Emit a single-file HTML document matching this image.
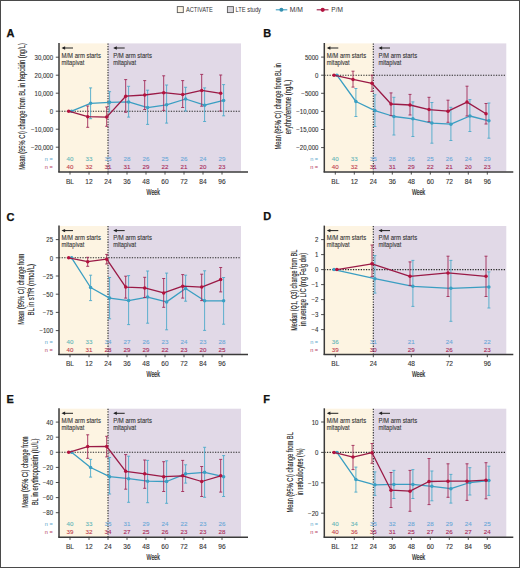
<!DOCTYPE html>
<html><head><meta charset="utf-8"><style>
html,body{margin:0;padding:0;background:#fff;}
svg{display:block;font-family:"Liberation Sans", sans-serif;}
</style></head><body>
<svg width="520" height="568" viewBox="0 0 520 568" font-family='"Liberation Sans", sans-serif'>
<rect x="0" y="0" width="520" height="568" fill="#fff"/>
<rect x="59.00" y="43.40" width="49.00" height="128.20" fill="#fdf4e2"/>
<rect x="108.00" y="43.40" width="133.00" height="128.20" fill="#e1d9e7"/>
<line x1="59.00" y1="111.20" x2="241.00" y2="111.20" stroke="#2a2a2a" stroke-width="1.1" stroke-dasharray="1.3 1.3"/>
<line x1="108.00" y1="43.40" x2="108.00" y2="171.60" stroke="#2a2a2a" stroke-width="1.1" stroke-dasharray="1.3 1.3"/>
<line x1="63.00" y1="48.00" x2="73.00" y2="48.00" stroke="#222" stroke-width="1"/>
<path d="M61.50,48.00 L65.10,46.30 L65.10,49.70 Z" fill="#222"/>
<text x="61.50" y="57.80" font-size="6.3" text-anchor="start" fill="#333" textLength="39.40" lengthAdjust="spacingAndGlyphs" stroke="#333" stroke-width="0.1">M/M arm starts</text>
<text x="61.50" y="64.70" font-size="6.3" text-anchor="start" fill="#333" textLength="22.80" lengthAdjust="spacingAndGlyphs" stroke="#333" stroke-width="0.1">mitapivat</text>
<line x1="114.70" y1="48.00" x2="124.70" y2="48.00" stroke="#222" stroke-width="1"/>
<path d="M113.20,48.00 L116.80,46.30 L116.80,49.70 Z" fill="#222"/>
<text x="113.20" y="57.80" font-size="6.3" text-anchor="start" fill="#333" textLength="38.70" lengthAdjust="spacingAndGlyphs" stroke="#333" stroke-width="0.1">P/M arm starts</text>
<text x="113.20" y="64.70" font-size="6.3" text-anchor="start" fill="#333" textLength="22.80" lengthAdjust="spacingAndGlyphs" stroke="#333" stroke-width="0.1">mitapivat</text>
<line x1="90.60" y1="87.90" x2="90.60" y2="118.70" stroke="#4eaacb" stroke-width="0.9"/>
<line x1="89.10" y1="87.90" x2="92.10" y2="87.90" stroke="#4eaacb" stroke-width="0.9"/>
<line x1="89.10" y1="118.70" x2="92.10" y2="118.70" stroke="#4eaacb" stroke-width="0.9"/>
<line x1="109.60" y1="91.70" x2="109.60" y2="112.00" stroke="#4eaacb" stroke-width="0.9"/>
<line x1="108.10" y1="91.70" x2="111.10" y2="91.70" stroke="#4eaacb" stroke-width="0.9"/>
<line x1="108.10" y1="112.00" x2="111.10" y2="112.00" stroke="#4eaacb" stroke-width="0.9"/>
<line x1="128.60" y1="86.30" x2="128.60" y2="117.10" stroke="#4eaacb" stroke-width="0.9"/>
<line x1="127.10" y1="86.30" x2="130.10" y2="86.30" stroke="#4eaacb" stroke-width="0.9"/>
<line x1="127.10" y1="117.10" x2="130.10" y2="117.10" stroke="#4eaacb" stroke-width="0.9"/>
<line x1="147.60" y1="90.20" x2="147.60" y2="124.40" stroke="#4eaacb" stroke-width="0.9"/>
<line x1="146.10" y1="90.20" x2="149.10" y2="90.20" stroke="#4eaacb" stroke-width="0.9"/>
<line x1="146.10" y1="124.40" x2="149.10" y2="124.40" stroke="#4eaacb" stroke-width="0.9"/>
<line x1="166.60" y1="85.00" x2="166.60" y2="123.10" stroke="#4eaacb" stroke-width="0.9"/>
<line x1="165.10" y1="85.00" x2="168.10" y2="85.00" stroke="#4eaacb" stroke-width="0.9"/>
<line x1="165.10" y1="123.10" x2="168.10" y2="123.10" stroke="#4eaacb" stroke-width="0.9"/>
<line x1="185.60" y1="87.30" x2="185.60" y2="111.00" stroke="#4eaacb" stroke-width="0.9"/>
<line x1="184.10" y1="87.30" x2="187.10" y2="87.30" stroke="#4eaacb" stroke-width="0.9"/>
<line x1="184.10" y1="111.00" x2="187.10" y2="111.00" stroke="#4eaacb" stroke-width="0.9"/>
<line x1="204.60" y1="87.90" x2="204.60" y2="121.50" stroke="#4eaacb" stroke-width="0.9"/>
<line x1="203.10" y1="87.90" x2="206.10" y2="87.90" stroke="#4eaacb" stroke-width="0.9"/>
<line x1="203.10" y1="121.50" x2="206.10" y2="121.50" stroke="#4eaacb" stroke-width="0.9"/>
<line x1="223.60" y1="84.60" x2="223.60" y2="115.80" stroke="#4eaacb" stroke-width="0.9"/>
<line x1="222.10" y1="84.60" x2="225.10" y2="84.60" stroke="#4eaacb" stroke-width="0.9"/>
<line x1="222.10" y1="115.80" x2="225.10" y2="115.80" stroke="#4eaacb" stroke-width="0.9"/>
<polyline points="71.60,111.20 90.60,103.30 109.60,102.30 128.60,101.90 147.60,107.60 166.60,104.80 185.60,99.00 204.60,105.20 223.60,100.40" fill="none" stroke="#3a9ec2" stroke-width="1.3" stroke-linejoin="round"/>
<circle cx="71.60" cy="111.20" r="1.75" fill="#3aa0c4"/>
<circle cx="90.60" cy="103.30" r="1.75" fill="#3aa0c4"/>
<circle cx="109.60" cy="102.30" r="1.75" fill="#3aa0c4"/>
<circle cx="128.60" cy="101.90" r="1.75" fill="#3aa0c4"/>
<circle cx="147.60" cy="107.60" r="1.75" fill="#3aa0c4"/>
<circle cx="166.60" cy="104.80" r="1.75" fill="#3aa0c4"/>
<circle cx="185.60" cy="99.00" r="1.75" fill="#3aa0c4"/>
<circle cx="204.60" cy="105.20" r="1.75" fill="#3aa0c4"/>
<circle cx="223.60" cy="100.40" r="1.75" fill="#3aa0c4"/>
<line x1="87.70" y1="106.00" x2="87.70" y2="127.30" stroke="#a02a58" stroke-width="0.9"/>
<line x1="86.20" y1="106.00" x2="89.20" y2="106.00" stroke="#a02a58" stroke-width="0.9"/>
<line x1="86.20" y1="127.30" x2="89.20" y2="127.30" stroke="#a02a58" stroke-width="0.9"/>
<line x1="106.70" y1="107.00" x2="106.70" y2="126.30" stroke="#a02a58" stroke-width="0.9"/>
<line x1="105.20" y1="107.00" x2="108.20" y2="107.00" stroke="#a02a58" stroke-width="0.9"/>
<line x1="105.20" y1="126.30" x2="108.20" y2="126.30" stroke="#a02a58" stroke-width="0.9"/>
<line x1="125.70" y1="79.60" x2="125.70" y2="112.30" stroke="#a02a58" stroke-width="0.9"/>
<line x1="124.20" y1="79.60" x2="127.20" y2="79.60" stroke="#a02a58" stroke-width="0.9"/>
<line x1="124.20" y1="112.30" x2="127.20" y2="112.30" stroke="#a02a58" stroke-width="0.9"/>
<line x1="144.70" y1="80.60" x2="144.70" y2="109.50" stroke="#a02a58" stroke-width="0.9"/>
<line x1="143.20" y1="80.60" x2="146.20" y2="80.60" stroke="#a02a58" stroke-width="0.9"/>
<line x1="143.20" y1="109.50" x2="146.20" y2="109.50" stroke="#a02a58" stroke-width="0.9"/>
<line x1="163.70" y1="75.80" x2="163.70" y2="110.40" stroke="#a02a58" stroke-width="0.9"/>
<line x1="162.20" y1="75.80" x2="165.20" y2="75.80" stroke="#a02a58" stroke-width="0.9"/>
<line x1="162.20" y1="110.40" x2="165.20" y2="110.40" stroke="#a02a58" stroke-width="0.9"/>
<line x1="182.70" y1="80.60" x2="182.70" y2="107.50" stroke="#a02a58" stroke-width="0.9"/>
<line x1="181.20" y1="80.60" x2="184.20" y2="80.60" stroke="#a02a58" stroke-width="0.9"/>
<line x1="181.20" y1="107.50" x2="184.20" y2="107.50" stroke="#a02a58" stroke-width="0.9"/>
<line x1="201.70" y1="74.40" x2="201.70" y2="106.20" stroke="#a02a58" stroke-width="0.9"/>
<line x1="200.20" y1="74.40" x2="203.20" y2="74.40" stroke="#a02a58" stroke-width="0.9"/>
<line x1="200.20" y1="106.20" x2="203.20" y2="106.20" stroke="#a02a58" stroke-width="0.9"/>
<line x1="220.70" y1="75.00" x2="220.70" y2="111.00" stroke="#a02a58" stroke-width="0.9"/>
<line x1="219.20" y1="75.00" x2="222.20" y2="75.00" stroke="#a02a58" stroke-width="0.9"/>
<line x1="219.20" y1="111.00" x2="222.20" y2="111.00" stroke="#a02a58" stroke-width="0.9"/>
<polyline points="68.70,111.20 87.70,116.70 106.70,117.10 125.70,96.20 144.70,95.00 163.70,92.70 182.70,94.60 201.70,90.40 220.70,93.30" fill="none" stroke="#9a1a46" stroke-width="1.3" stroke-linejoin="round"/>
<circle cx="68.70" cy="111.20" r="1.75" fill="#b3123e"/>
<circle cx="87.70" cy="116.70" r="1.75" fill="#b3123e"/>
<circle cx="106.70" cy="117.10" r="1.75" fill="#b3123e"/>
<circle cx="125.70" cy="96.20" r="1.75" fill="#b3123e"/>
<circle cx="144.70" cy="95.00" r="1.75" fill="#b3123e"/>
<circle cx="163.70" cy="92.70" r="1.75" fill="#b3123e"/>
<circle cx="182.70" cy="94.60" r="1.75" fill="#b3123e"/>
<circle cx="201.70" cy="90.40" r="1.75" fill="#b3123e"/>
<circle cx="220.70" cy="93.30" r="1.75" fill="#b3123e"/>
<text x="52.80" y="161.13" font-size="5.6" text-anchor="end" fill="#5aa6cc">n =</text>
<text x="52.80" y="168.93" font-size="5.6" text-anchor="end" fill="#b43c62">n =</text>
<text x="70.00" y="161.13" font-size="6.2" text-anchor="middle" fill="#62b4b8" stroke="#62b4b8" stroke-width="0.1">40</text>
<text x="70.00" y="168.93" font-size="6.2" text-anchor="middle" fill="#c03c4c" stroke="#c03c4c" stroke-width="0.1">40</text>
<text x="89.00" y="161.13" font-size="6.2" text-anchor="middle" fill="#62b4b8" stroke="#62b4b8" stroke-width="0.1">33</text>
<text x="89.00" y="168.93" font-size="6.2" text-anchor="middle" fill="#c03c4c" stroke="#c03c4c" stroke-width="0.1">32</text>
<text x="108.00" y="161.13" font-size="6.2" text-anchor="middle" fill="#6aa8d8" stroke="#6aa8d8" stroke-width="0.1">35</text>
<text x="108.00" y="168.93" font-size="6.2" text-anchor="middle" fill="#a82a58" stroke="#a82a58" stroke-width="0.1">31</text>
<text x="127.00" y="161.13" font-size="6.2" text-anchor="middle" fill="#6aa8d8" stroke="#6aa8d8" stroke-width="0.1">28</text>
<text x="127.00" y="168.93" font-size="6.2" text-anchor="middle" fill="#a82a58" stroke="#a82a58" stroke-width="0.1">31</text>
<text x="146.00" y="161.13" font-size="6.2" text-anchor="middle" fill="#6aa8d8" stroke="#6aa8d8" stroke-width="0.1">26</text>
<text x="146.00" y="168.93" font-size="6.2" text-anchor="middle" fill="#a82a58" stroke="#a82a58" stroke-width="0.1">29</text>
<text x="165.00" y="161.13" font-size="6.2" text-anchor="middle" fill="#6aa8d8" stroke="#6aa8d8" stroke-width="0.1">25</text>
<text x="165.00" y="168.93" font-size="6.2" text-anchor="middle" fill="#a82a58" stroke="#a82a58" stroke-width="0.1">22</text>
<text x="184.00" y="161.13" font-size="6.2" text-anchor="middle" fill="#6aa8d8" stroke="#6aa8d8" stroke-width="0.1">26</text>
<text x="184.00" y="168.93" font-size="6.2" text-anchor="middle" fill="#a82a58" stroke="#a82a58" stroke-width="0.1">21</text>
<text x="203.00" y="161.13" font-size="6.2" text-anchor="middle" fill="#6aa8d8" stroke="#6aa8d8" stroke-width="0.1">24</text>
<text x="203.00" y="168.93" font-size="6.2" text-anchor="middle" fill="#a82a58" stroke="#a82a58" stroke-width="0.1">20</text>
<text x="222.00" y="161.13" font-size="6.2" text-anchor="middle" fill="#6aa8d8" stroke="#6aa8d8" stroke-width="0.1">29</text>
<text x="222.00" y="168.93" font-size="6.2" text-anchor="middle" fill="#a82a58" stroke="#a82a58" stroke-width="0.1">23</text>
<line x1="59.00" y1="43.00" x2="59.00" y2="172.30" stroke="#3a3a3a" stroke-width="1.5"/>
<line x1="58.30" y1="171.95" x2="248.00" y2="171.95" stroke="#3a3a3a" stroke-width="1.5"/>
<line x1="55.80" y1="57.20" x2="59.00" y2="57.20" stroke="#3a3a3a" stroke-width="0.9"/>
<text transform="translate(53.10,59.98) scale(0.92,1)" font-size="6.6" text-anchor="end" fill="#333333" stroke="#333" stroke-width="0.1">30,000</text>
<line x1="55.80" y1="75.20" x2="59.00" y2="75.20" stroke="#3a3a3a" stroke-width="0.9"/>
<text transform="translate(53.10,77.98) scale(0.92,1)" font-size="6.6" text-anchor="end" fill="#333333" stroke="#333" stroke-width="0.1">20,000</text>
<line x1="55.80" y1="93.20" x2="59.00" y2="93.20" stroke="#3a3a3a" stroke-width="0.9"/>
<text transform="translate(53.10,95.98) scale(0.92,1)" font-size="6.6" text-anchor="end" fill="#333333" stroke="#333" stroke-width="0.1">10,000</text>
<line x1="55.80" y1="111.20" x2="59.00" y2="111.20" stroke="#3a3a3a" stroke-width="0.9"/>
<text transform="translate(53.10,113.98) scale(0.92,1)" font-size="6.6" text-anchor="end" fill="#333333" stroke="#333" stroke-width="0.1">0</text>
<line x1="55.80" y1="129.20" x2="59.00" y2="129.20" stroke="#3a3a3a" stroke-width="0.9"/>
<text transform="translate(53.10,131.98) scale(0.92,1)" font-size="6.6" text-anchor="end" fill="#333333" stroke="#333" stroke-width="0.1">−10,000</text>
<line x1="55.80" y1="147.20" x2="59.00" y2="147.20" stroke="#3a3a3a" stroke-width="0.9"/>
<text transform="translate(53.10,149.98) scale(0.92,1)" font-size="6.6" text-anchor="end" fill="#333333" stroke="#333" stroke-width="0.1">−20,000</text>
<line x1="70.00" y1="171.60" x2="70.00" y2="174.60" stroke="#3a3a3a" stroke-width="0.9"/>
<text transform="translate(70.00,183.58) scale(1.0,1)" font-size="6.6" text-anchor="middle" fill="#333333" stroke="#333" stroke-width="0.1">BL</text>
<line x1="89.00" y1="171.60" x2="89.00" y2="174.60" stroke="#3a3a3a" stroke-width="0.9"/>
<text transform="translate(89.00,183.58) scale(1.0,1)" font-size="6.6" text-anchor="middle" fill="#333333" stroke="#333" stroke-width="0.1">12</text>
<line x1="108.00" y1="171.60" x2="108.00" y2="174.60" stroke="#3a3a3a" stroke-width="0.9"/>
<text transform="translate(108.00,183.58) scale(1.0,1)" font-size="6.6" text-anchor="middle" fill="#333333" stroke="#333" stroke-width="0.1">24</text>
<line x1="127.00" y1="171.60" x2="127.00" y2="174.60" stroke="#3a3a3a" stroke-width="0.9"/>
<text transform="translate(127.00,183.58) scale(1.0,1)" font-size="6.6" text-anchor="middle" fill="#333333" stroke="#333" stroke-width="0.1">36</text>
<line x1="146.00" y1="171.60" x2="146.00" y2="174.60" stroke="#3a3a3a" stroke-width="0.9"/>
<text transform="translate(146.00,183.58) scale(1.0,1)" font-size="6.6" text-anchor="middle" fill="#333333" stroke="#333" stroke-width="0.1">48</text>
<line x1="165.00" y1="171.60" x2="165.00" y2="174.60" stroke="#3a3a3a" stroke-width="0.9"/>
<text transform="translate(165.00,183.58) scale(1.0,1)" font-size="6.6" text-anchor="middle" fill="#333333" stroke="#333" stroke-width="0.1">60</text>
<line x1="184.00" y1="171.60" x2="184.00" y2="174.60" stroke="#3a3a3a" stroke-width="0.9"/>
<text transform="translate(184.00,183.58) scale(1.0,1)" font-size="6.6" text-anchor="middle" fill="#333333" stroke="#333" stroke-width="0.1">72</text>
<line x1="203.00" y1="171.60" x2="203.00" y2="174.60" stroke="#3a3a3a" stroke-width="0.9"/>
<text transform="translate(203.00,183.58) scale(1.0,1)" font-size="6.6" text-anchor="middle" fill="#333333" stroke="#333" stroke-width="0.1">84</text>
<line x1="222.00" y1="171.60" x2="222.00" y2="174.60" stroke="#3a3a3a" stroke-width="0.9"/>
<text transform="translate(222.00,183.58) scale(1.0,1)" font-size="6.6" text-anchor="middle" fill="#333333" stroke="#333" stroke-width="0.1">96</text>
<text x="153.25" y="194.50" font-size="8.2" text-anchor="middle" fill="#222" textLength="13.30" lengthAdjust="spacingAndGlyphs" stroke="#222" stroke-width="0.2">Week</text>
<text x="6.50" y="37.10" font-size="11" text-anchor="start" fill="#111" font-weight="bold" stroke="#111" stroke-width="0.25">A</text>
<text transform="translate(25.40,106.50) rotate(-90)" x="0" y="0" font-size="8.8" text-anchor="middle" fill="#222" stroke="#222" stroke-width="0.12" textLength="126.60" lengthAdjust="spacingAndGlyphs">Mean (95% CI) change from BL in hepcidin (ng/L)</text>
<rect x="324.30" y="43.40" width="49.00" height="128.20" fill="#fdf4e2"/>
<rect x="373.30" y="43.40" width="133.00" height="128.20" fill="#e1d9e7"/>
<line x1="324.30" y1="75.20" x2="506.30" y2="75.20" stroke="#2a2a2a" stroke-width="1.1" stroke-dasharray="1.3 1.3"/>
<line x1="373.30" y1="43.40" x2="373.30" y2="171.60" stroke="#2a2a2a" stroke-width="1.1" stroke-dasharray="1.3 1.3"/>
<line x1="328.30" y1="48.00" x2="338.30" y2="48.00" stroke="#222" stroke-width="1"/>
<path d="M326.80,48.00 L330.40,46.30 L330.40,49.70 Z" fill="#222"/>
<text x="326.80" y="57.80" font-size="6.3" text-anchor="start" fill="#333" textLength="39.40" lengthAdjust="spacingAndGlyphs" stroke="#333" stroke-width="0.1">M/M arm starts</text>
<text x="326.80" y="64.70" font-size="6.3" text-anchor="start" fill="#333" textLength="22.80" lengthAdjust="spacingAndGlyphs" stroke="#333" stroke-width="0.1">mitapivat</text>
<line x1="380.00" y1="48.00" x2="390.00" y2="48.00" stroke="#222" stroke-width="1"/>
<path d="M378.50,48.00 L382.10,46.30 L382.10,49.70 Z" fill="#222"/>
<text x="378.50" y="57.80" font-size="6.3" text-anchor="start" fill="#333" textLength="38.70" lengthAdjust="spacingAndGlyphs" stroke="#333" stroke-width="0.1">P/M arm starts</text>
<text x="378.50" y="64.70" font-size="6.3" text-anchor="start" fill="#333" textLength="22.80" lengthAdjust="spacingAndGlyphs" stroke="#333" stroke-width="0.1">mitapivat</text>
<line x1="355.90" y1="88.50" x2="355.90" y2="116.50" stroke="#4eaacb" stroke-width="0.9"/>
<line x1="354.40" y1="88.50" x2="357.40" y2="88.50" stroke="#4eaacb" stroke-width="0.9"/>
<line x1="354.40" y1="116.50" x2="357.40" y2="116.50" stroke="#4eaacb" stroke-width="0.9"/>
<line x1="374.90" y1="94.80" x2="374.90" y2="126.50" stroke="#4eaacb" stroke-width="0.9"/>
<line x1="373.40" y1="94.80" x2="376.40" y2="94.80" stroke="#4eaacb" stroke-width="0.9"/>
<line x1="373.40" y1="126.50" x2="376.40" y2="126.50" stroke="#4eaacb" stroke-width="0.9"/>
<line x1="393.90" y1="97.30" x2="393.90" y2="135.00" stroke="#4eaacb" stroke-width="0.9"/>
<line x1="392.40" y1="97.30" x2="395.40" y2="97.30" stroke="#4eaacb" stroke-width="0.9"/>
<line x1="392.40" y1="135.00" x2="395.40" y2="135.00" stroke="#4eaacb" stroke-width="0.9"/>
<line x1="412.90" y1="101.90" x2="412.90" y2="136.50" stroke="#4eaacb" stroke-width="0.9"/>
<line x1="411.40" y1="101.90" x2="414.40" y2="101.90" stroke="#4eaacb" stroke-width="0.9"/>
<line x1="411.40" y1="136.50" x2="414.40" y2="136.50" stroke="#4eaacb" stroke-width="0.9"/>
<line x1="431.90" y1="102.50" x2="431.90" y2="143.20" stroke="#4eaacb" stroke-width="0.9"/>
<line x1="430.40" y1="102.50" x2="433.40" y2="102.50" stroke="#4eaacb" stroke-width="0.9"/>
<line x1="430.40" y1="143.20" x2="433.40" y2="143.20" stroke="#4eaacb" stroke-width="0.9"/>
<line x1="450.90" y1="107.30" x2="450.90" y2="140.50" stroke="#4eaacb" stroke-width="0.9"/>
<line x1="449.40" y1="107.30" x2="452.40" y2="107.30" stroke="#4eaacb" stroke-width="0.9"/>
<line x1="449.40" y1="140.50" x2="452.40" y2="140.50" stroke="#4eaacb" stroke-width="0.9"/>
<line x1="469.90" y1="99.60" x2="469.90" y2="131.50" stroke="#4eaacb" stroke-width="0.9"/>
<line x1="468.40" y1="99.60" x2="471.40" y2="99.60" stroke="#4eaacb" stroke-width="0.9"/>
<line x1="468.40" y1="131.50" x2="471.40" y2="131.50" stroke="#4eaacb" stroke-width="0.9"/>
<line x1="488.90" y1="103.00" x2="488.90" y2="138.20" stroke="#4eaacb" stroke-width="0.9"/>
<line x1="487.40" y1="103.00" x2="490.40" y2="103.00" stroke="#4eaacb" stroke-width="0.9"/>
<line x1="487.40" y1="138.20" x2="490.40" y2="138.20" stroke="#4eaacb" stroke-width="0.9"/>
<polyline points="336.90,75.20 355.90,101.50 374.90,110.60 393.90,116.50 412.90,118.80 431.90,123.10 450.90,124.20 469.90,116.00 488.90,120.80" fill="none" stroke="#3a9ec2" stroke-width="1.3" stroke-linejoin="round"/>
<circle cx="336.90" cy="75.20" r="1.75" fill="#3aa0c4"/>
<circle cx="355.90" cy="101.50" r="1.75" fill="#3aa0c4"/>
<circle cx="374.90" cy="110.60" r="1.75" fill="#3aa0c4"/>
<circle cx="393.90" cy="116.50" r="1.75" fill="#3aa0c4"/>
<circle cx="412.90" cy="118.80" r="1.75" fill="#3aa0c4"/>
<circle cx="431.90" cy="123.10" r="1.75" fill="#3aa0c4"/>
<circle cx="450.90" cy="124.20" r="1.75" fill="#3aa0c4"/>
<circle cx="469.90" cy="116.00" r="1.75" fill="#3aa0c4"/>
<circle cx="488.90" cy="120.80" r="1.75" fill="#3aa0c4"/>
<line x1="353.00" y1="71.20" x2="353.00" y2="87.10" stroke="#a02a58" stroke-width="0.9"/>
<line x1="351.50" y1="71.20" x2="354.50" y2="71.20" stroke="#a02a58" stroke-width="0.9"/>
<line x1="351.50" y1="87.10" x2="354.50" y2="87.10" stroke="#a02a58" stroke-width="0.9"/>
<line x1="372.00" y1="75.20" x2="372.00" y2="91.50" stroke="#a02a58" stroke-width="0.9"/>
<line x1="370.50" y1="75.20" x2="373.50" y2="75.20" stroke="#a02a58" stroke-width="0.9"/>
<line x1="370.50" y1="91.50" x2="373.50" y2="91.50" stroke="#a02a58" stroke-width="0.9"/>
<line x1="391.00" y1="92.90" x2="391.00" y2="115.60" stroke="#a02a58" stroke-width="0.9"/>
<line x1="389.50" y1="92.90" x2="392.50" y2="92.90" stroke="#a02a58" stroke-width="0.9"/>
<line x1="389.50" y1="115.60" x2="392.50" y2="115.60" stroke="#a02a58" stroke-width="0.9"/>
<line x1="410.00" y1="94.40" x2="410.00" y2="115.00" stroke="#a02a58" stroke-width="0.9"/>
<line x1="408.50" y1="94.40" x2="411.50" y2="94.40" stroke="#a02a58" stroke-width="0.9"/>
<line x1="408.50" y1="115.00" x2="411.50" y2="115.00" stroke="#a02a58" stroke-width="0.9"/>
<line x1="429.00" y1="97.30" x2="429.00" y2="121.70" stroke="#a02a58" stroke-width="0.9"/>
<line x1="427.50" y1="97.30" x2="430.50" y2="97.30" stroke="#a02a58" stroke-width="0.9"/>
<line x1="427.50" y1="121.70" x2="430.50" y2="121.70" stroke="#a02a58" stroke-width="0.9"/>
<line x1="448.00" y1="100.20" x2="448.00" y2="122.30" stroke="#a02a58" stroke-width="0.9"/>
<line x1="446.50" y1="100.20" x2="449.50" y2="100.20" stroke="#a02a58" stroke-width="0.9"/>
<line x1="446.50" y1="122.30" x2="449.50" y2="122.30" stroke="#a02a58" stroke-width="0.9"/>
<line x1="467.00" y1="86.20" x2="467.00" y2="116.00" stroke="#a02a58" stroke-width="0.9"/>
<line x1="465.50" y1="86.20" x2="468.50" y2="86.20" stroke="#a02a58" stroke-width="0.9"/>
<line x1="465.50" y1="116.00" x2="468.50" y2="116.00" stroke="#a02a58" stroke-width="0.9"/>
<line x1="486.00" y1="103.50" x2="486.00" y2="124.00" stroke="#a02a58" stroke-width="0.9"/>
<line x1="484.50" y1="103.50" x2="487.50" y2="103.50" stroke="#a02a58" stroke-width="0.9"/>
<line x1="484.50" y1="124.00" x2="487.50" y2="124.00" stroke="#a02a58" stroke-width="0.9"/>
<polyline points="334.00,75.20 353.00,79.40 372.00,83.30 391.00,104.00 410.00,105.00 429.00,109.60 448.00,111.20 467.00,102.10 486.00,113.70" fill="none" stroke="#9a1a46" stroke-width="1.3" stroke-linejoin="round"/>
<circle cx="334.00" cy="75.20" r="1.75" fill="#b3123e"/>
<circle cx="353.00" cy="79.40" r="1.75" fill="#b3123e"/>
<circle cx="372.00" cy="83.30" r="1.75" fill="#b3123e"/>
<circle cx="391.00" cy="104.00" r="1.75" fill="#b3123e"/>
<circle cx="410.00" cy="105.00" r="1.75" fill="#b3123e"/>
<circle cx="429.00" cy="109.60" r="1.75" fill="#b3123e"/>
<circle cx="448.00" cy="111.20" r="1.75" fill="#b3123e"/>
<circle cx="467.00" cy="102.10" r="1.75" fill="#b3123e"/>
<circle cx="486.00" cy="113.70" r="1.75" fill="#b3123e"/>
<text x="318.10" y="161.13" font-size="5.6" text-anchor="end" fill="#5aa6cc">n =</text>
<text x="318.10" y="168.93" font-size="5.6" text-anchor="end" fill="#b43c62">n =</text>
<text x="335.30" y="161.13" font-size="6.2" text-anchor="middle" fill="#62b4b8" stroke="#62b4b8" stroke-width="0.1">40</text>
<text x="335.30" y="168.93" font-size="6.2" text-anchor="middle" fill="#c03c4c" stroke="#c03c4c" stroke-width="0.1">40</text>
<text x="354.30" y="161.13" font-size="6.2" text-anchor="middle" fill="#62b4b8" stroke="#62b4b8" stroke-width="0.1">33</text>
<text x="354.30" y="168.93" font-size="6.2" text-anchor="middle" fill="#c03c4c" stroke="#c03c4c" stroke-width="0.1">32</text>
<text x="373.30" y="161.13" font-size="6.2" text-anchor="middle" fill="#6aa8d8" stroke="#6aa8d8" stroke-width="0.1">35</text>
<text x="373.30" y="168.93" font-size="6.2" text-anchor="middle" fill="#a82a58" stroke="#a82a58" stroke-width="0.1">31</text>
<text x="392.30" y="161.13" font-size="6.2" text-anchor="middle" fill="#6aa8d8" stroke="#6aa8d8" stroke-width="0.1">28</text>
<text x="392.30" y="168.93" font-size="6.2" text-anchor="middle" fill="#a82a58" stroke="#a82a58" stroke-width="0.1">31</text>
<text x="411.30" y="161.13" font-size="6.2" text-anchor="middle" fill="#6aa8d8" stroke="#6aa8d8" stroke-width="0.1">26</text>
<text x="411.30" y="168.93" font-size="6.2" text-anchor="middle" fill="#a82a58" stroke="#a82a58" stroke-width="0.1">29</text>
<text x="430.30" y="161.13" font-size="6.2" text-anchor="middle" fill="#6aa8d8" stroke="#6aa8d8" stroke-width="0.1">25</text>
<text x="430.30" y="168.93" font-size="6.2" text-anchor="middle" fill="#a82a58" stroke="#a82a58" stroke-width="0.1">22</text>
<text x="449.30" y="161.13" font-size="6.2" text-anchor="middle" fill="#6aa8d8" stroke="#6aa8d8" stroke-width="0.1">26</text>
<text x="449.30" y="168.93" font-size="6.2" text-anchor="middle" fill="#a82a58" stroke="#a82a58" stroke-width="0.1">21</text>
<text x="468.30" y="161.13" font-size="6.2" text-anchor="middle" fill="#6aa8d8" stroke="#6aa8d8" stroke-width="0.1">24</text>
<text x="468.30" y="168.93" font-size="6.2" text-anchor="middle" fill="#a82a58" stroke="#a82a58" stroke-width="0.1">20</text>
<text x="487.30" y="161.13" font-size="6.2" text-anchor="middle" fill="#6aa8d8" stroke="#6aa8d8" stroke-width="0.1">29</text>
<text x="487.30" y="168.93" font-size="6.2" text-anchor="middle" fill="#a82a58" stroke="#a82a58" stroke-width="0.1">23</text>
<line x1="324.30" y1="43.00" x2="324.30" y2="172.30" stroke="#3a3a3a" stroke-width="1.5"/>
<line x1="323.60" y1="171.95" x2="513.30" y2="171.95" stroke="#3a3a3a" stroke-width="1.5"/>
<line x1="321.10" y1="57.10" x2="324.30" y2="57.10" stroke="#3a3a3a" stroke-width="0.9"/>
<text transform="translate(318.40,59.88) scale(0.92,1)" font-size="6.6" text-anchor="end" fill="#333333" stroke="#333" stroke-width="0.1">5000</text>
<line x1="321.10" y1="75.20" x2="324.30" y2="75.20" stroke="#3a3a3a" stroke-width="0.9"/>
<text transform="translate(318.40,77.98) scale(0.92,1)" font-size="6.6" text-anchor="end" fill="#333333" stroke="#333" stroke-width="0.1">0</text>
<line x1="321.10" y1="93.30" x2="324.30" y2="93.30" stroke="#3a3a3a" stroke-width="0.9"/>
<text transform="translate(318.40,96.08) scale(0.92,1)" font-size="6.6" text-anchor="end" fill="#333333" stroke="#333" stroke-width="0.1">−5000</text>
<line x1="321.10" y1="111.40" x2="324.30" y2="111.40" stroke="#3a3a3a" stroke-width="0.9"/>
<text transform="translate(318.40,114.18) scale(0.92,1)" font-size="6.6" text-anchor="end" fill="#333333" stroke="#333" stroke-width="0.1">−10,000</text>
<line x1="321.10" y1="129.50" x2="324.30" y2="129.50" stroke="#3a3a3a" stroke-width="0.9"/>
<text transform="translate(318.40,132.28) scale(0.92,1)" font-size="6.6" text-anchor="end" fill="#333333" stroke="#333" stroke-width="0.1">−15,000</text>
<line x1="321.10" y1="147.60" x2="324.30" y2="147.60" stroke="#3a3a3a" stroke-width="0.9"/>
<text transform="translate(318.40,150.38) scale(0.92,1)" font-size="6.6" text-anchor="end" fill="#333333" stroke="#333" stroke-width="0.1">−20,000</text>
<line x1="335.30" y1="171.60" x2="335.30" y2="174.60" stroke="#3a3a3a" stroke-width="0.9"/>
<text transform="translate(335.30,183.58) scale(1.0,1)" font-size="6.6" text-anchor="middle" fill="#333333" stroke="#333" stroke-width="0.1">BL</text>
<line x1="354.30" y1="171.60" x2="354.30" y2="174.60" stroke="#3a3a3a" stroke-width="0.9"/>
<text transform="translate(354.30,183.58) scale(1.0,1)" font-size="6.6" text-anchor="middle" fill="#333333" stroke="#333" stroke-width="0.1">12</text>
<line x1="373.30" y1="171.60" x2="373.30" y2="174.60" stroke="#3a3a3a" stroke-width="0.9"/>
<text transform="translate(373.30,183.58) scale(1.0,1)" font-size="6.6" text-anchor="middle" fill="#333333" stroke="#333" stroke-width="0.1">24</text>
<line x1="392.30" y1="171.60" x2="392.30" y2="174.60" stroke="#3a3a3a" stroke-width="0.9"/>
<text transform="translate(392.30,183.58) scale(1.0,1)" font-size="6.6" text-anchor="middle" fill="#333333" stroke="#333" stroke-width="0.1">36</text>
<line x1="411.30" y1="171.60" x2="411.30" y2="174.60" stroke="#3a3a3a" stroke-width="0.9"/>
<text transform="translate(411.30,183.58) scale(1.0,1)" font-size="6.6" text-anchor="middle" fill="#333333" stroke="#333" stroke-width="0.1">48</text>
<line x1="430.30" y1="171.60" x2="430.30" y2="174.60" stroke="#3a3a3a" stroke-width="0.9"/>
<text transform="translate(430.30,183.58) scale(1.0,1)" font-size="6.6" text-anchor="middle" fill="#333333" stroke="#333" stroke-width="0.1">60</text>
<line x1="449.30" y1="171.60" x2="449.30" y2="174.60" stroke="#3a3a3a" stroke-width="0.9"/>
<text transform="translate(449.30,183.58) scale(1.0,1)" font-size="6.6" text-anchor="middle" fill="#333333" stroke="#333" stroke-width="0.1">72</text>
<line x1="468.30" y1="171.60" x2="468.30" y2="174.60" stroke="#3a3a3a" stroke-width="0.9"/>
<text transform="translate(468.30,183.58) scale(1.0,1)" font-size="6.6" text-anchor="middle" fill="#333333" stroke="#333" stroke-width="0.1">84</text>
<line x1="487.30" y1="171.60" x2="487.30" y2="174.60" stroke="#3a3a3a" stroke-width="0.9"/>
<text transform="translate(487.30,183.58) scale(1.0,1)" font-size="6.6" text-anchor="middle" fill="#333333" stroke="#333" stroke-width="0.1">96</text>
<text x="418.55" y="194.50" font-size="8.2" text-anchor="middle" fill="#222" textLength="13.30" lengthAdjust="spacingAndGlyphs" stroke="#222" stroke-width="0.2">Week</text>
<text x="263.30" y="37.30" font-size="11" text-anchor="start" fill="#111" font-weight="bold" stroke="#111" stroke-width="0.25">B</text>
<text transform="translate(281.00,106.30) rotate(-90)" x="0" y="0" font-size="8.8" text-anchor="middle" fill="#222" stroke="#222" stroke-width="0.12" textLength="86.30" lengthAdjust="spacingAndGlyphs">Mean (95% CI) change from BL in</text>
<text transform="translate(290.50,106.90) rotate(-90)" x="0" y="0" font-size="8.8" text-anchor="middle" fill="#222" stroke="#222" stroke-width="0.12" textLength="54.50" lengthAdjust="spacingAndGlyphs">erythroferrone (ng/L)</text>
<rect x="59.00" y="226.00" width="49.00" height="128.20" fill="#fdf4e2"/>
<rect x="108.00" y="226.00" width="133.00" height="128.20" fill="#e1d9e7"/>
<line x1="59.00" y1="257.80" x2="241.00" y2="257.80" stroke="#2a2a2a" stroke-width="1.1" stroke-dasharray="1.3 1.3"/>
<line x1="108.00" y1="226.00" x2="108.00" y2="354.20" stroke="#2a2a2a" stroke-width="1.1" stroke-dasharray="1.3 1.3"/>
<line x1="63.00" y1="230.60" x2="73.00" y2="230.60" stroke="#222" stroke-width="1"/>
<path d="M61.50,230.60 L65.10,228.90 L65.10,232.30 Z" fill="#222"/>
<text x="61.50" y="240.40" font-size="6.3" text-anchor="start" fill="#333" textLength="39.40" lengthAdjust="spacingAndGlyphs" stroke="#333" stroke-width="0.1">M/M arm starts</text>
<text x="61.50" y="247.30" font-size="6.3" text-anchor="start" fill="#333" textLength="22.80" lengthAdjust="spacingAndGlyphs" stroke="#333" stroke-width="0.1">mitapivat</text>
<line x1="114.70" y1="230.60" x2="124.70" y2="230.60" stroke="#222" stroke-width="1"/>
<path d="M113.20,230.60 L116.80,228.90 L116.80,232.30 Z" fill="#222"/>
<text x="113.20" y="240.40" font-size="6.3" text-anchor="start" fill="#333" textLength="38.70" lengthAdjust="spacingAndGlyphs" stroke="#333" stroke-width="0.1">P/M arm starts</text>
<text x="113.20" y="247.30" font-size="6.3" text-anchor="start" fill="#333" textLength="22.80" lengthAdjust="spacingAndGlyphs" stroke="#333" stroke-width="0.1">mitapivat</text>
<line x1="90.60" y1="275.20" x2="90.60" y2="300.60" stroke="#4eaacb" stroke-width="0.9"/>
<line x1="89.10" y1="275.20" x2="92.10" y2="275.20" stroke="#4eaacb" stroke-width="0.9"/>
<line x1="89.10" y1="300.60" x2="92.10" y2="300.60" stroke="#4eaacb" stroke-width="0.9"/>
<line x1="109.60" y1="277.50" x2="109.60" y2="318.80" stroke="#4eaacb" stroke-width="0.9"/>
<line x1="108.10" y1="277.50" x2="111.10" y2="277.50" stroke="#4eaacb" stroke-width="0.9"/>
<line x1="108.10" y1="318.80" x2="111.10" y2="318.80" stroke="#4eaacb" stroke-width="0.9"/>
<line x1="128.60" y1="275.60" x2="128.60" y2="324.60" stroke="#4eaacb" stroke-width="0.9"/>
<line x1="127.10" y1="275.60" x2="130.10" y2="275.60" stroke="#4eaacb" stroke-width="0.9"/>
<line x1="127.10" y1="324.60" x2="130.10" y2="324.60" stroke="#4eaacb" stroke-width="0.9"/>
<line x1="147.60" y1="271.00" x2="147.60" y2="323.20" stroke="#4eaacb" stroke-width="0.9"/>
<line x1="146.10" y1="271.00" x2="149.10" y2="271.00" stroke="#4eaacb" stroke-width="0.9"/>
<line x1="146.10" y1="323.20" x2="149.10" y2="323.20" stroke="#4eaacb" stroke-width="0.9"/>
<line x1="166.60" y1="273.10" x2="166.60" y2="329.80" stroke="#4eaacb" stroke-width="0.9"/>
<line x1="165.10" y1="273.10" x2="168.10" y2="273.10" stroke="#4eaacb" stroke-width="0.9"/>
<line x1="165.10" y1="329.80" x2="168.10" y2="329.80" stroke="#4eaacb" stroke-width="0.9"/>
<line x1="185.60" y1="275.20" x2="185.60" y2="301.20" stroke="#4eaacb" stroke-width="0.9"/>
<line x1="184.10" y1="275.20" x2="187.10" y2="275.20" stroke="#4eaacb" stroke-width="0.9"/>
<line x1="184.10" y1="301.20" x2="187.10" y2="301.20" stroke="#4eaacb" stroke-width="0.9"/>
<line x1="204.60" y1="270.80" x2="204.60" y2="330.40" stroke="#4eaacb" stroke-width="0.9"/>
<line x1="203.10" y1="270.80" x2="206.10" y2="270.80" stroke="#4eaacb" stroke-width="0.9"/>
<line x1="203.10" y1="330.40" x2="206.10" y2="330.40" stroke="#4eaacb" stroke-width="0.9"/>
<line x1="223.60" y1="277.50" x2="223.60" y2="324.20" stroke="#4eaacb" stroke-width="0.9"/>
<line x1="222.10" y1="277.50" x2="225.10" y2="277.50" stroke="#4eaacb" stroke-width="0.9"/>
<line x1="222.10" y1="324.20" x2="225.10" y2="324.20" stroke="#4eaacb" stroke-width="0.9"/>
<polyline points="71.60,257.80 90.60,287.50 109.60,298.10 128.60,300.60 147.60,297.10 166.60,301.90 185.60,288.50 204.60,300.80 223.60,300.80" fill="none" stroke="#3a9ec2" stroke-width="1.3" stroke-linejoin="round"/>
<circle cx="71.60" cy="257.80" r="1.75" fill="#3aa0c4"/>
<circle cx="90.60" cy="287.50" r="1.75" fill="#3aa0c4"/>
<circle cx="109.60" cy="298.10" r="1.75" fill="#3aa0c4"/>
<circle cx="128.60" cy="300.60" r="1.75" fill="#3aa0c4"/>
<circle cx="147.60" cy="297.10" r="1.75" fill="#3aa0c4"/>
<circle cx="166.60" cy="301.90" r="1.75" fill="#3aa0c4"/>
<circle cx="185.60" cy="288.50" r="1.75" fill="#3aa0c4"/>
<circle cx="204.60" cy="300.80" r="1.75" fill="#3aa0c4"/>
<circle cx="223.60" cy="300.80" r="1.75" fill="#3aa0c4"/>
<line x1="87.70" y1="257.30" x2="87.70" y2="266.30" stroke="#a02a58" stroke-width="0.9"/>
<line x1="86.20" y1="257.30" x2="89.20" y2="257.30" stroke="#a02a58" stroke-width="0.9"/>
<line x1="86.20" y1="266.30" x2="89.20" y2="266.30" stroke="#a02a58" stroke-width="0.9"/>
<line x1="106.70" y1="254.40" x2="106.70" y2="264.00" stroke="#a02a58" stroke-width="0.9"/>
<line x1="105.20" y1="254.40" x2="108.20" y2="254.40" stroke="#a02a58" stroke-width="0.9"/>
<line x1="105.20" y1="264.00" x2="108.20" y2="264.00" stroke="#a02a58" stroke-width="0.9"/>
<line x1="125.70" y1="276.20" x2="125.70" y2="298.10" stroke="#a02a58" stroke-width="0.9"/>
<line x1="124.20" y1="276.20" x2="127.20" y2="276.20" stroke="#a02a58" stroke-width="0.9"/>
<line x1="124.20" y1="298.10" x2="127.20" y2="298.10" stroke="#a02a58" stroke-width="0.9"/>
<line x1="144.70" y1="277.30" x2="144.70" y2="297.50" stroke="#a02a58" stroke-width="0.9"/>
<line x1="143.20" y1="277.30" x2="146.20" y2="277.30" stroke="#a02a58" stroke-width="0.9"/>
<line x1="143.20" y1="297.50" x2="146.20" y2="297.50" stroke="#a02a58" stroke-width="0.9"/>
<line x1="163.70" y1="278.50" x2="163.70" y2="307.30" stroke="#a02a58" stroke-width="0.9"/>
<line x1="162.20" y1="278.50" x2="165.20" y2="278.50" stroke="#a02a58" stroke-width="0.9"/>
<line x1="162.20" y1="307.30" x2="165.20" y2="307.30" stroke="#a02a58" stroke-width="0.9"/>
<line x1="182.70" y1="274.60" x2="182.70" y2="298.10" stroke="#a02a58" stroke-width="0.9"/>
<line x1="181.20" y1="274.60" x2="184.20" y2="274.60" stroke="#a02a58" stroke-width="0.9"/>
<line x1="181.20" y1="298.10" x2="184.20" y2="298.10" stroke="#a02a58" stroke-width="0.9"/>
<line x1="201.70" y1="274.20" x2="201.70" y2="300.60" stroke="#a02a58" stroke-width="0.9"/>
<line x1="200.20" y1="274.20" x2="203.20" y2="274.20" stroke="#a02a58" stroke-width="0.9"/>
<line x1="200.20" y1="300.60" x2="203.20" y2="300.60" stroke="#a02a58" stroke-width="0.9"/>
<line x1="220.70" y1="267.50" x2="220.70" y2="291.90" stroke="#a02a58" stroke-width="0.9"/>
<line x1="219.20" y1="267.50" x2="222.20" y2="267.50" stroke="#a02a58" stroke-width="0.9"/>
<line x1="219.20" y1="291.90" x2="222.20" y2="291.90" stroke="#a02a58" stroke-width="0.9"/>
<polyline points="68.70,257.80 87.70,261.70 106.70,259.20 125.70,287.10 144.70,287.90 163.70,292.90 182.70,286.20 201.70,287.10 220.70,279.60" fill="none" stroke="#9a1a46" stroke-width="1.3" stroke-linejoin="round"/>
<circle cx="68.70" cy="257.80" r="1.75" fill="#b3123e"/>
<circle cx="87.70" cy="261.70" r="1.75" fill="#b3123e"/>
<circle cx="106.70" cy="259.20" r="1.75" fill="#b3123e"/>
<circle cx="125.70" cy="287.10" r="1.75" fill="#b3123e"/>
<circle cx="144.70" cy="287.90" r="1.75" fill="#b3123e"/>
<circle cx="163.70" cy="292.90" r="1.75" fill="#b3123e"/>
<circle cx="182.70" cy="286.20" r="1.75" fill="#b3123e"/>
<circle cx="201.70" cy="287.10" r="1.75" fill="#b3123e"/>
<circle cx="220.70" cy="279.60" r="1.75" fill="#b3123e"/>
<text x="52.80" y="343.73" font-size="5.6" text-anchor="end" fill="#5aa6cc">n =</text>
<text x="52.80" y="351.53" font-size="5.6" text-anchor="end" fill="#b43c62">n =</text>
<text x="70.00" y="343.73" font-size="6.2" text-anchor="middle" fill="#62b4b8" stroke="#62b4b8" stroke-width="0.1">40</text>
<text x="70.00" y="351.53" font-size="6.2" text-anchor="middle" fill="#c03c4c" stroke="#c03c4c" stroke-width="0.1">40</text>
<text x="89.00" y="343.73" font-size="6.2" text-anchor="middle" fill="#62b4b8" stroke="#62b4b8" stroke-width="0.1">33</text>
<text x="89.00" y="351.53" font-size="6.2" text-anchor="middle" fill="#c03c4c" stroke="#c03c4c" stroke-width="0.1">31</text>
<text x="108.00" y="343.73" font-size="6.2" text-anchor="middle" fill="#6aa8d8" stroke="#6aa8d8" stroke-width="0.1">34</text>
<text x="108.00" y="351.53" font-size="6.2" text-anchor="middle" fill="#a82a58" stroke="#a82a58" stroke-width="0.1">28</text>
<text x="127.00" y="343.73" font-size="6.2" text-anchor="middle" fill="#6aa8d8" stroke="#6aa8d8" stroke-width="0.1">27</text>
<text x="127.00" y="351.53" font-size="6.2" text-anchor="middle" fill="#a82a58" stroke="#a82a58" stroke-width="0.1">29</text>
<text x="146.00" y="343.73" font-size="6.2" text-anchor="middle" fill="#6aa8d8" stroke="#6aa8d8" stroke-width="0.1">26</text>
<text x="146.00" y="351.53" font-size="6.2" text-anchor="middle" fill="#a82a58" stroke="#a82a58" stroke-width="0.1">29</text>
<text x="165.00" y="343.73" font-size="6.2" text-anchor="middle" fill="#6aa8d8" stroke="#6aa8d8" stroke-width="0.1">23</text>
<text x="165.00" y="351.53" font-size="6.2" text-anchor="middle" fill="#a82a58" stroke="#a82a58" stroke-width="0.1">22</text>
<text x="184.00" y="343.73" font-size="6.2" text-anchor="middle" fill="#6aa8d8" stroke="#6aa8d8" stroke-width="0.1">24</text>
<text x="184.00" y="351.53" font-size="6.2" text-anchor="middle" fill="#a82a58" stroke="#a82a58" stroke-width="0.1">23</text>
<text x="203.00" y="343.73" font-size="6.2" text-anchor="middle" fill="#6aa8d8" stroke="#6aa8d8" stroke-width="0.1">23</text>
<text x="203.00" y="351.53" font-size="6.2" text-anchor="middle" fill="#a82a58" stroke="#a82a58" stroke-width="0.1">20</text>
<text x="222.00" y="343.73" font-size="6.2" text-anchor="middle" fill="#6aa8d8" stroke="#6aa8d8" stroke-width="0.1">28</text>
<text x="222.00" y="351.53" font-size="6.2" text-anchor="middle" fill="#a82a58" stroke="#a82a58" stroke-width="0.1">25</text>
<line x1="59.00" y1="225.60" x2="59.00" y2="354.90" stroke="#3a3a3a" stroke-width="1.5"/>
<line x1="58.30" y1="354.55" x2="248.00" y2="354.55" stroke="#3a3a3a" stroke-width="1.5"/>
<line x1="55.80" y1="239.60" x2="59.00" y2="239.60" stroke="#3a3a3a" stroke-width="0.9"/>
<text transform="translate(53.10,242.38) scale(0.92,1)" font-size="6.6" text-anchor="end" fill="#333333" stroke="#333" stroke-width="0.1">25</text>
<line x1="55.80" y1="257.80" x2="59.00" y2="257.80" stroke="#3a3a3a" stroke-width="0.9"/>
<text transform="translate(53.10,260.58) scale(0.92,1)" font-size="6.6" text-anchor="end" fill="#333333" stroke="#333" stroke-width="0.1">0</text>
<line x1="55.80" y1="276.00" x2="59.00" y2="276.00" stroke="#3a3a3a" stroke-width="0.9"/>
<text transform="translate(53.10,278.78) scale(0.92,1)" font-size="6.6" text-anchor="end" fill="#333333" stroke="#333" stroke-width="0.1">−25</text>
<line x1="55.80" y1="294.20" x2="59.00" y2="294.20" stroke="#3a3a3a" stroke-width="0.9"/>
<text transform="translate(53.10,296.98) scale(0.92,1)" font-size="6.6" text-anchor="end" fill="#333333" stroke="#333" stroke-width="0.1">−50</text>
<line x1="55.80" y1="312.40" x2="59.00" y2="312.40" stroke="#3a3a3a" stroke-width="0.9"/>
<text transform="translate(53.10,315.18) scale(0.92,1)" font-size="6.6" text-anchor="end" fill="#333333" stroke="#333" stroke-width="0.1">−75</text>
<line x1="55.80" y1="330.60" x2="59.00" y2="330.60" stroke="#3a3a3a" stroke-width="0.9"/>
<text transform="translate(53.10,333.38) scale(0.92,1)" font-size="6.6" text-anchor="end" fill="#333333" stroke="#333" stroke-width="0.1">−100</text>
<line x1="70.00" y1="354.20" x2="70.00" y2="357.20" stroke="#3a3a3a" stroke-width="0.9"/>
<text transform="translate(70.00,366.18) scale(1.0,1)" font-size="6.6" text-anchor="middle" fill="#333333" stroke="#333" stroke-width="0.1">BL</text>
<line x1="89.00" y1="354.20" x2="89.00" y2="357.20" stroke="#3a3a3a" stroke-width="0.9"/>
<text transform="translate(89.00,366.18) scale(1.0,1)" font-size="6.6" text-anchor="middle" fill="#333333" stroke="#333" stroke-width="0.1">12</text>
<line x1="108.00" y1="354.20" x2="108.00" y2="357.20" stroke="#3a3a3a" stroke-width="0.9"/>
<text transform="translate(108.00,366.18) scale(1.0,1)" font-size="6.6" text-anchor="middle" fill="#333333" stroke="#333" stroke-width="0.1">24</text>
<line x1="127.00" y1="354.20" x2="127.00" y2="357.20" stroke="#3a3a3a" stroke-width="0.9"/>
<text transform="translate(127.00,366.18) scale(1.0,1)" font-size="6.6" text-anchor="middle" fill="#333333" stroke="#333" stroke-width="0.1">36</text>
<line x1="146.00" y1="354.20" x2="146.00" y2="357.20" stroke="#3a3a3a" stroke-width="0.9"/>
<text transform="translate(146.00,366.18) scale(1.0,1)" font-size="6.6" text-anchor="middle" fill="#333333" stroke="#333" stroke-width="0.1">48</text>
<line x1="165.00" y1="354.20" x2="165.00" y2="357.20" stroke="#3a3a3a" stroke-width="0.9"/>
<text transform="translate(165.00,366.18) scale(1.0,1)" font-size="6.6" text-anchor="middle" fill="#333333" stroke="#333" stroke-width="0.1">60</text>
<line x1="184.00" y1="354.20" x2="184.00" y2="357.20" stroke="#3a3a3a" stroke-width="0.9"/>
<text transform="translate(184.00,366.18) scale(1.0,1)" font-size="6.6" text-anchor="middle" fill="#333333" stroke="#333" stroke-width="0.1">72</text>
<line x1="203.00" y1="354.20" x2="203.00" y2="357.20" stroke="#3a3a3a" stroke-width="0.9"/>
<text transform="translate(203.00,366.18) scale(1.0,1)" font-size="6.6" text-anchor="middle" fill="#333333" stroke="#333" stroke-width="0.1">84</text>
<line x1="222.00" y1="354.20" x2="222.00" y2="357.20" stroke="#3a3a3a" stroke-width="0.9"/>
<text transform="translate(222.00,366.18) scale(1.0,1)" font-size="6.6" text-anchor="middle" fill="#333333" stroke="#333" stroke-width="0.1">96</text>
<text x="153.25" y="377.10" font-size="8.2" text-anchor="middle" fill="#222" textLength="13.30" lengthAdjust="spacingAndGlyphs" stroke="#222" stroke-width="0.2">Week</text>
<text x="6.50" y="220.60" font-size="11" text-anchor="start" fill="#111" font-weight="bold" stroke="#111" stroke-width="0.25">C</text>
<text transform="translate(23.80,289.30) rotate(-90)" x="0" y="0" font-size="8.8" text-anchor="middle" fill="#222" stroke="#222" stroke-width="0.12" textLength="71.00" lengthAdjust="spacingAndGlyphs">Mean (95% CI) change from</text>
<text transform="translate(33.90,289.70) rotate(-90)" x="0" y="0" font-size="8.8" text-anchor="middle" fill="#222" stroke="#222" stroke-width="0.12" textLength="51.50" lengthAdjust="spacingAndGlyphs">BL in sTfR (nmol/L)</text>
<rect x="324.30" y="226.00" width="49.00" height="128.20" fill="#fdf4e2"/>
<rect x="373.30" y="226.00" width="133.00" height="128.20" fill="#e1d9e7"/>
<line x1="324.30" y1="269.60" x2="506.30" y2="269.60" stroke="#2a2a2a" stroke-width="1.1" stroke-dasharray="1.3 1.3"/>
<line x1="373.30" y1="226.00" x2="373.30" y2="354.20" stroke="#2a2a2a" stroke-width="1.1" stroke-dasharray="1.3 1.3"/>
<line x1="328.30" y1="230.60" x2="338.30" y2="230.60" stroke="#222" stroke-width="1"/>
<path d="M326.80,230.60 L330.40,228.90 L330.40,232.30 Z" fill="#222"/>
<text x="326.80" y="240.40" font-size="6.3" text-anchor="start" fill="#333" textLength="39.40" lengthAdjust="spacingAndGlyphs" stroke="#333" stroke-width="0.1">M/M arm starts</text>
<text x="326.80" y="247.30" font-size="6.3" text-anchor="start" fill="#333" textLength="22.80" lengthAdjust="spacingAndGlyphs" stroke="#333" stroke-width="0.1">mitapivat</text>
<line x1="380.00" y1="230.60" x2="390.00" y2="230.60" stroke="#222" stroke-width="1"/>
<path d="M378.50,230.60 L382.10,228.90 L382.10,232.30 Z" fill="#222"/>
<text x="378.50" y="240.40" font-size="6.3" text-anchor="start" fill="#333" textLength="38.70" lengthAdjust="spacingAndGlyphs" stroke="#333" stroke-width="0.1">P/M arm starts</text>
<text x="378.50" y="247.30" font-size="6.3" text-anchor="start" fill="#333" textLength="22.80" lengthAdjust="spacingAndGlyphs" stroke="#333" stroke-width="0.1">mitapivat</text>
<line x1="374.90" y1="255.60" x2="374.90" y2="293.10" stroke="#4eaacb" stroke-width="0.9"/>
<line x1="373.40" y1="255.60" x2="376.40" y2="255.60" stroke="#4eaacb" stroke-width="0.9"/>
<line x1="373.40" y1="293.10" x2="376.40" y2="293.10" stroke="#4eaacb" stroke-width="0.9"/>
<line x1="412.90" y1="260.40" x2="412.90" y2="306.40" stroke="#4eaacb" stroke-width="0.9"/>
<line x1="411.40" y1="260.40" x2="414.40" y2="260.40" stroke="#4eaacb" stroke-width="0.9"/>
<line x1="411.40" y1="306.40" x2="414.40" y2="306.40" stroke="#4eaacb" stroke-width="0.9"/>
<line x1="450.90" y1="260.40" x2="450.90" y2="321.30" stroke="#4eaacb" stroke-width="0.9"/>
<line x1="449.40" y1="260.40" x2="452.40" y2="260.40" stroke="#4eaacb" stroke-width="0.9"/>
<line x1="449.40" y1="321.30" x2="452.40" y2="321.30" stroke="#4eaacb" stroke-width="0.9"/>
<line x1="488.90" y1="271.90" x2="488.90" y2="308.00" stroke="#4eaacb" stroke-width="0.9"/>
<line x1="487.40" y1="271.90" x2="490.40" y2="271.90" stroke="#4eaacb" stroke-width="0.9"/>
<line x1="487.40" y1="308.00" x2="490.40" y2="308.00" stroke="#4eaacb" stroke-width="0.9"/>
<polyline points="334.00,269.60 374.90,278.70 412.90,286.30 450.90,288.30 488.90,286.90" fill="none" stroke="#3a9ec2" stroke-width="1.3" stroke-linejoin="round"/>
<circle cx="334.00" cy="269.60" r="1.75" fill="#3aa0c4"/>
<circle cx="374.90" cy="278.70" r="1.75" fill="#3aa0c4"/>
<circle cx="412.90" cy="286.30" r="1.75" fill="#3aa0c4"/>
<circle cx="450.90" cy="288.30" r="1.75" fill="#3aa0c4"/>
<circle cx="488.90" cy="286.90" r="1.75" fill="#3aa0c4"/>
<line x1="372.00" y1="245.00" x2="372.00" y2="276.70" stroke="#a02a58" stroke-width="0.9"/>
<line x1="370.50" y1="245.00" x2="373.50" y2="245.00" stroke="#a02a58" stroke-width="0.9"/>
<line x1="370.50" y1="276.70" x2="373.50" y2="276.70" stroke="#a02a58" stroke-width="0.9"/>
<line x1="410.00" y1="261.90" x2="410.00" y2="285.40" stroke="#a02a58" stroke-width="0.9"/>
<line x1="408.50" y1="261.90" x2="411.50" y2="261.90" stroke="#a02a58" stroke-width="0.9"/>
<line x1="408.50" y1="285.40" x2="411.50" y2="285.40" stroke="#a02a58" stroke-width="0.9"/>
<line x1="448.00" y1="256.20" x2="448.00" y2="296.50" stroke="#a02a58" stroke-width="0.9"/>
<line x1="446.50" y1="256.20" x2="449.50" y2="256.20" stroke="#a02a58" stroke-width="0.9"/>
<line x1="446.50" y1="296.50" x2="449.50" y2="296.50" stroke="#a02a58" stroke-width="0.9"/>
<line x1="486.00" y1="256.20" x2="486.00" y2="296.50" stroke="#a02a58" stroke-width="0.9"/>
<line x1="484.50" y1="256.20" x2="487.50" y2="256.20" stroke="#a02a58" stroke-width="0.9"/>
<line x1="484.50" y1="296.50" x2="487.50" y2="296.50" stroke="#a02a58" stroke-width="0.9"/>
<polyline points="336.90,269.60 372.00,263.80 410.00,276.30 448.00,272.90 486.00,276.30" fill="none" stroke="#9a1a46" stroke-width="1.3" stroke-linejoin="round"/>
<circle cx="336.90" cy="269.60" r="1.75" fill="#b3123e"/>
<circle cx="372.00" cy="263.80" r="1.75" fill="#b3123e"/>
<circle cx="410.00" cy="276.30" r="1.75" fill="#b3123e"/>
<circle cx="448.00" cy="272.90" r="1.75" fill="#b3123e"/>
<circle cx="486.00" cy="276.30" r="1.75" fill="#b3123e"/>
<text x="318.10" y="343.73" font-size="5.6" text-anchor="end" fill="#5aa6cc">n =</text>
<text x="318.10" y="351.53" font-size="5.6" text-anchor="end" fill="#b43c62">n =</text>
<text x="335.30" y="343.73" font-size="6.2" text-anchor="middle" fill="#62b4b8" stroke="#62b4b8" stroke-width="0.1">36</text>
<text x="335.30" y="351.53" font-size="6.2" text-anchor="middle" fill="#c03c4c" stroke="#c03c4c" stroke-width="0.1">39</text>
<text x="373.30" y="343.73" font-size="6.2" text-anchor="middle" fill="#6aa8d8" stroke="#6aa8d8" stroke-width="0.1">31</text>
<text x="373.30" y="351.53" font-size="6.2" text-anchor="middle" fill="#a82a58" stroke="#a82a58" stroke-width="0.1">30</text>
<text x="411.30" y="343.73" font-size="6.2" text-anchor="middle" fill="#6aa8d8" stroke="#6aa8d8" stroke-width="0.1">21</text>
<text x="411.30" y="351.53" font-size="6.2" text-anchor="middle" fill="#a82a58" stroke="#a82a58" stroke-width="0.1">29</text>
<text x="449.30" y="343.73" font-size="6.2" text-anchor="middle" fill="#6aa8d8" stroke="#6aa8d8" stroke-width="0.1">24</text>
<text x="449.30" y="351.53" font-size="6.2" text-anchor="middle" fill="#a82a58" stroke="#a82a58" stroke-width="0.1">26</text>
<text x="487.30" y="343.73" font-size="6.2" text-anchor="middle" fill="#6aa8d8" stroke="#6aa8d8" stroke-width="0.1">22</text>
<text x="487.30" y="351.53" font-size="6.2" text-anchor="middle" fill="#a82a58" stroke="#a82a58" stroke-width="0.1">23</text>
<line x1="324.30" y1="225.60" x2="324.30" y2="354.90" stroke="#3a3a3a" stroke-width="1.5"/>
<line x1="323.60" y1="354.55" x2="513.30" y2="354.55" stroke="#3a3a3a" stroke-width="1.5"/>
<line x1="321.10" y1="239.60" x2="324.30" y2="239.60" stroke="#3a3a3a" stroke-width="0.9"/>
<text transform="translate(318.40,242.38) scale(0.92,1)" font-size="6.6" text-anchor="end" fill="#333333" stroke="#333" stroke-width="0.1">2</text>
<line x1="321.10" y1="254.60" x2="324.30" y2="254.60" stroke="#3a3a3a" stroke-width="0.9"/>
<text transform="translate(318.40,257.38) scale(0.92,1)" font-size="6.6" text-anchor="end" fill="#333333" stroke="#333" stroke-width="0.1">1</text>
<line x1="321.10" y1="269.60" x2="324.30" y2="269.60" stroke="#3a3a3a" stroke-width="0.9"/>
<text transform="translate(318.40,272.38) scale(0.92,1)" font-size="6.6" text-anchor="end" fill="#333333" stroke="#333" stroke-width="0.1">0</text>
<line x1="321.10" y1="284.60" x2="324.30" y2="284.60" stroke="#3a3a3a" stroke-width="0.9"/>
<text transform="translate(318.40,287.38) scale(0.92,1)" font-size="6.6" text-anchor="end" fill="#333333" stroke="#333" stroke-width="0.1">−1</text>
<line x1="321.10" y1="299.60" x2="324.30" y2="299.60" stroke="#3a3a3a" stroke-width="0.9"/>
<text transform="translate(318.40,302.38) scale(0.92,1)" font-size="6.6" text-anchor="end" fill="#333333" stroke="#333" stroke-width="0.1">−2</text>
<line x1="321.10" y1="314.60" x2="324.30" y2="314.60" stroke="#3a3a3a" stroke-width="0.9"/>
<text transform="translate(318.40,317.38) scale(0.92,1)" font-size="6.6" text-anchor="end" fill="#333333" stroke="#333" stroke-width="0.1">−3</text>
<line x1="321.10" y1="329.60" x2="324.30" y2="329.60" stroke="#3a3a3a" stroke-width="0.9"/>
<text transform="translate(318.40,332.38) scale(0.92,1)" font-size="6.6" text-anchor="end" fill="#333333" stroke="#333" stroke-width="0.1">−4</text>
<line x1="335.30" y1="354.20" x2="335.30" y2="357.20" stroke="#3a3a3a" stroke-width="0.9"/>
<text transform="translate(335.30,366.18) scale(1.0,1)" font-size="6.6" text-anchor="middle" fill="#333333" stroke="#333" stroke-width="0.1">BL</text>
<line x1="373.30" y1="354.20" x2="373.30" y2="357.20" stroke="#3a3a3a" stroke-width="0.9"/>
<text transform="translate(373.30,366.18) scale(1.0,1)" font-size="6.6" text-anchor="middle" fill="#333333" stroke="#333" stroke-width="0.1">24</text>
<line x1="411.30" y1="354.20" x2="411.30" y2="357.20" stroke="#3a3a3a" stroke-width="0.9"/>
<text transform="translate(411.30,366.18) scale(1.0,1)" font-size="6.6" text-anchor="middle" fill="#333333" stroke="#333" stroke-width="0.1">48</text>
<line x1="449.30" y1="354.20" x2="449.30" y2="357.20" stroke="#3a3a3a" stroke-width="0.9"/>
<text transform="translate(449.30,366.18) scale(1.0,1)" font-size="6.6" text-anchor="middle" fill="#333333" stroke="#333" stroke-width="0.1">72</text>
<line x1="487.30" y1="354.20" x2="487.30" y2="357.20" stroke="#3a3a3a" stroke-width="0.9"/>
<text transform="translate(487.30,366.18) scale(1.0,1)" font-size="6.6" text-anchor="middle" fill="#333333" stroke="#333" stroke-width="0.1">96</text>
<text x="418.55" y="377.10" font-size="8.2" text-anchor="middle" fill="#222" textLength="13.30" lengthAdjust="spacingAndGlyphs" stroke="#222" stroke-width="0.2">Week</text>
<text x="263.30" y="220.40" font-size="11" text-anchor="start" fill="#111" font-weight="bold" stroke="#111" stroke-width="0.25">D</text>
<text transform="translate(296.50,290.20) rotate(-90)" x="0" y="0" font-size="8.8" text-anchor="middle" fill="#222" stroke="#222" stroke-width="0.12" textLength="81.00" lengthAdjust="spacingAndGlyphs">Median (Q1, Q3) change from BL</text>
<text transform="translate(306.30,289.40) rotate(-90)" x="0" y="0" font-size="8.8" text-anchor="middle" fill="#222" stroke="#222" stroke-width="0.12" textLength="73.00" lengthAdjust="spacingAndGlyphs">in average LIC (mg Fe/g dw)</text>
<rect x="59.00" y="408.70" width="49.00" height="128.20" fill="#fdf4e2"/>
<rect x="108.00" y="408.70" width="133.00" height="128.20" fill="#e1d9e7"/>
<line x1="59.00" y1="452.30" x2="241.00" y2="452.30" stroke="#2a2a2a" stroke-width="1.1" stroke-dasharray="1.3 1.3"/>
<line x1="108.00" y1="408.70" x2="108.00" y2="536.90" stroke="#2a2a2a" stroke-width="1.1" stroke-dasharray="1.3 1.3"/>
<line x1="63.00" y1="413.30" x2="73.00" y2="413.30" stroke="#222" stroke-width="1"/>
<path d="M61.50,413.30 L65.10,411.60 L65.10,415.00 Z" fill="#222"/>
<text x="61.50" y="423.10" font-size="6.3" text-anchor="start" fill="#333" textLength="39.40" lengthAdjust="spacingAndGlyphs" stroke="#333" stroke-width="0.1">M/M arm starts</text>
<text x="61.50" y="430.00" font-size="6.3" text-anchor="start" fill="#333" textLength="22.80" lengthAdjust="spacingAndGlyphs" stroke="#333" stroke-width="0.1">mitapivat</text>
<line x1="114.70" y1="413.30" x2="124.70" y2="413.30" stroke="#222" stroke-width="1"/>
<path d="M113.20,413.30 L116.80,411.60 L116.80,415.00 Z" fill="#222"/>
<text x="113.20" y="423.10" font-size="6.3" text-anchor="start" fill="#333" textLength="38.70" lengthAdjust="spacingAndGlyphs" stroke="#333" stroke-width="0.1">P/M arm starts</text>
<text x="113.20" y="430.00" font-size="6.3" text-anchor="start" fill="#333" textLength="22.80" lengthAdjust="spacingAndGlyphs" stroke="#333" stroke-width="0.1">mitapivat</text>
<line x1="90.60" y1="459.40" x2="90.60" y2="477.10" stroke="#4eaacb" stroke-width="0.9"/>
<line x1="89.10" y1="459.40" x2="92.10" y2="459.40" stroke="#4eaacb" stroke-width="0.9"/>
<line x1="89.10" y1="477.10" x2="92.10" y2="477.10" stroke="#4eaacb" stroke-width="0.9"/>
<line x1="109.60" y1="457.50" x2="109.60" y2="494.00" stroke="#4eaacb" stroke-width="0.9"/>
<line x1="108.10" y1="457.50" x2="111.10" y2="457.50" stroke="#4eaacb" stroke-width="0.9"/>
<line x1="108.10" y1="494.00" x2="111.10" y2="494.00" stroke="#4eaacb" stroke-width="0.9"/>
<line x1="128.60" y1="456.20" x2="128.60" y2="502.30" stroke="#4eaacb" stroke-width="0.9"/>
<line x1="127.10" y1="456.20" x2="130.10" y2="456.20" stroke="#4eaacb" stroke-width="0.9"/>
<line x1="127.10" y1="502.30" x2="130.10" y2="502.30" stroke="#4eaacb" stroke-width="0.9"/>
<line x1="147.60" y1="460.40" x2="147.60" y2="502.70" stroke="#4eaacb" stroke-width="0.9"/>
<line x1="146.10" y1="460.40" x2="149.10" y2="460.40" stroke="#4eaacb" stroke-width="0.9"/>
<line x1="146.10" y1="502.70" x2="149.10" y2="502.70" stroke="#4eaacb" stroke-width="0.9"/>
<line x1="166.60" y1="460.80" x2="166.60" y2="503.30" stroke="#4eaacb" stroke-width="0.9"/>
<line x1="165.10" y1="460.80" x2="168.10" y2="460.80" stroke="#4eaacb" stroke-width="0.9"/>
<line x1="165.10" y1="503.30" x2="168.10" y2="503.30" stroke="#4eaacb" stroke-width="0.9"/>
<line x1="185.60" y1="464.80" x2="185.60" y2="483.10" stroke="#4eaacb" stroke-width="0.9"/>
<line x1="184.10" y1="464.80" x2="187.10" y2="464.80" stroke="#4eaacb" stroke-width="0.9"/>
<line x1="184.10" y1="483.10" x2="187.10" y2="483.10" stroke="#4eaacb" stroke-width="0.9"/>
<line x1="204.60" y1="447.30" x2="204.60" y2="497.30" stroke="#4eaacb" stroke-width="0.9"/>
<line x1="203.10" y1="447.30" x2="206.10" y2="447.30" stroke="#4eaacb" stroke-width="0.9"/>
<line x1="203.10" y1="497.30" x2="206.10" y2="497.30" stroke="#4eaacb" stroke-width="0.9"/>
<line x1="223.60" y1="455.60" x2="223.60" y2="496.50" stroke="#4eaacb" stroke-width="0.9"/>
<line x1="222.10" y1="455.60" x2="225.10" y2="455.60" stroke="#4eaacb" stroke-width="0.9"/>
<line x1="222.10" y1="496.50" x2="225.10" y2="496.50" stroke="#4eaacb" stroke-width="0.9"/>
<polyline points="71.60,452.30 90.60,467.50 109.60,476.70 128.60,478.70 147.60,481.20 166.60,481.50 185.60,473.80 204.60,472.30 223.60,476.70" fill="none" stroke="#3a9ec2" stroke-width="1.3" stroke-linejoin="round"/>
<circle cx="71.60" cy="452.30" r="1.75" fill="#3aa0c4"/>
<circle cx="90.60" cy="467.50" r="1.75" fill="#3aa0c4"/>
<circle cx="109.60" cy="476.70" r="1.75" fill="#3aa0c4"/>
<circle cx="128.60" cy="478.70" r="1.75" fill="#3aa0c4"/>
<circle cx="147.60" cy="481.20" r="1.75" fill="#3aa0c4"/>
<circle cx="166.60" cy="481.50" r="1.75" fill="#3aa0c4"/>
<circle cx="185.60" cy="473.80" r="1.75" fill="#3aa0c4"/>
<circle cx="204.60" cy="472.30" r="1.75" fill="#3aa0c4"/>
<circle cx="223.60" cy="476.70" r="1.75" fill="#3aa0c4"/>
<line x1="87.70" y1="434.80" x2="87.70" y2="458.30" stroke="#a02a58" stroke-width="0.9"/>
<line x1="86.20" y1="434.80" x2="89.20" y2="434.80" stroke="#a02a58" stroke-width="0.9"/>
<line x1="86.20" y1="458.30" x2="89.20" y2="458.30" stroke="#a02a58" stroke-width="0.9"/>
<line x1="106.70" y1="436.30" x2="106.70" y2="456.90" stroke="#a02a58" stroke-width="0.9"/>
<line x1="105.20" y1="436.30" x2="108.20" y2="436.30" stroke="#a02a58" stroke-width="0.9"/>
<line x1="105.20" y1="456.90" x2="108.20" y2="456.90" stroke="#a02a58" stroke-width="0.9"/>
<line x1="125.70" y1="454.60" x2="125.70" y2="489.20" stroke="#a02a58" stroke-width="0.9"/>
<line x1="124.20" y1="454.60" x2="127.20" y2="454.60" stroke="#a02a58" stroke-width="0.9"/>
<line x1="124.20" y1="489.20" x2="127.20" y2="489.20" stroke="#a02a58" stroke-width="0.9"/>
<line x1="144.70" y1="460.00" x2="144.70" y2="488.30" stroke="#a02a58" stroke-width="0.9"/>
<line x1="143.20" y1="460.00" x2="146.20" y2="460.00" stroke="#a02a58" stroke-width="0.9"/>
<line x1="143.20" y1="488.30" x2="146.20" y2="488.30" stroke="#a02a58" stroke-width="0.9"/>
<line x1="163.70" y1="461.70" x2="163.70" y2="491.50" stroke="#a02a58" stroke-width="0.9"/>
<line x1="162.20" y1="461.70" x2="165.20" y2="461.70" stroke="#a02a58" stroke-width="0.9"/>
<line x1="162.20" y1="491.50" x2="165.20" y2="491.50" stroke="#a02a58" stroke-width="0.9"/>
<line x1="182.70" y1="460.40" x2="182.70" y2="491.50" stroke="#a02a58" stroke-width="0.9"/>
<line x1="181.20" y1="460.40" x2="184.20" y2="460.40" stroke="#a02a58" stroke-width="0.9"/>
<line x1="181.20" y1="491.50" x2="184.20" y2="491.50" stroke="#a02a58" stroke-width="0.9"/>
<line x1="201.70" y1="466.50" x2="201.70" y2="496.50" stroke="#a02a58" stroke-width="0.9"/>
<line x1="200.20" y1="466.50" x2="203.20" y2="466.50" stroke="#a02a58" stroke-width="0.9"/>
<line x1="200.20" y1="496.50" x2="203.20" y2="496.50" stroke="#a02a58" stroke-width="0.9"/>
<line x1="220.70" y1="459.40" x2="220.70" y2="492.10" stroke="#a02a58" stroke-width="0.9"/>
<line x1="219.20" y1="459.40" x2="222.20" y2="459.40" stroke="#a02a58" stroke-width="0.9"/>
<line x1="219.20" y1="492.10" x2="222.20" y2="492.10" stroke="#a02a58" stroke-width="0.9"/>
<polyline points="68.70,452.30 87.70,446.60 106.70,446.50 125.70,471.30 144.70,473.80 163.70,476.70 182.70,475.80 201.70,481.50 220.70,475.80" fill="none" stroke="#9a1a46" stroke-width="1.3" stroke-linejoin="round"/>
<circle cx="68.70" cy="452.30" r="1.75" fill="#b3123e"/>
<circle cx="87.70" cy="446.60" r="1.75" fill="#b3123e"/>
<circle cx="106.70" cy="446.50" r="1.75" fill="#b3123e"/>
<circle cx="125.70" cy="471.30" r="1.75" fill="#b3123e"/>
<circle cx="144.70" cy="473.80" r="1.75" fill="#b3123e"/>
<circle cx="163.70" cy="476.70" r="1.75" fill="#b3123e"/>
<circle cx="182.70" cy="475.80" r="1.75" fill="#b3123e"/>
<circle cx="201.70" cy="481.50" r="1.75" fill="#b3123e"/>
<circle cx="220.70" cy="475.80" r="1.75" fill="#b3123e"/>
<text x="52.80" y="526.43" font-size="5.6" text-anchor="end" fill="#5aa6cc">n =</text>
<text x="52.80" y="534.23" font-size="5.6" text-anchor="end" fill="#b43c62">n =</text>
<text x="70.00" y="526.43" font-size="6.2" text-anchor="middle" fill="#62b4b8" stroke="#62b4b8" stroke-width="0.1">40</text>
<text x="70.00" y="534.23" font-size="6.2" text-anchor="middle" fill="#c03c4c" stroke="#c03c4c" stroke-width="0.1">39</text>
<text x="89.00" y="526.43" font-size="6.2" text-anchor="middle" fill="#62b4b8" stroke="#62b4b8" stroke-width="0.1">33</text>
<text x="89.00" y="534.23" font-size="6.2" text-anchor="middle" fill="#c03c4c" stroke="#c03c4c" stroke-width="0.1">32</text>
<text x="108.00" y="526.43" font-size="6.2" text-anchor="middle" fill="#6aa8d8" stroke="#6aa8d8" stroke-width="0.1">35</text>
<text x="108.00" y="534.23" font-size="6.2" text-anchor="middle" fill="#a82a58" stroke="#a82a58" stroke-width="0.1">34</text>
<text x="127.00" y="526.43" font-size="6.2" text-anchor="middle" fill="#6aa8d8" stroke="#6aa8d8" stroke-width="0.1">31</text>
<text x="127.00" y="534.23" font-size="6.2" text-anchor="middle" fill="#a82a58" stroke="#a82a58" stroke-width="0.1">27</text>
<text x="146.00" y="526.43" font-size="6.2" text-anchor="middle" fill="#6aa8d8" stroke="#6aa8d8" stroke-width="0.1">29</text>
<text x="146.00" y="534.23" font-size="6.2" text-anchor="middle" fill="#a82a58" stroke="#a82a58" stroke-width="0.1">25</text>
<text x="165.00" y="526.43" font-size="6.2" text-anchor="middle" fill="#6aa8d8" stroke="#6aa8d8" stroke-width="0.1">24</text>
<text x="165.00" y="534.23" font-size="6.2" text-anchor="middle" fill="#a82a58" stroke="#a82a58" stroke-width="0.1">26</text>
<text x="184.00" y="526.43" font-size="6.2" text-anchor="middle" fill="#6aa8d8" stroke="#6aa8d8" stroke-width="0.1">22</text>
<text x="184.00" y="534.23" font-size="6.2" text-anchor="middle" fill="#a82a58" stroke="#a82a58" stroke-width="0.1">23</text>
<text x="203.00" y="526.43" font-size="6.2" text-anchor="middle" fill="#6aa8d8" stroke="#6aa8d8" stroke-width="0.1">23</text>
<text x="203.00" y="534.23" font-size="6.2" text-anchor="middle" fill="#a82a58" stroke="#a82a58" stroke-width="0.1">23</text>
<text x="222.00" y="526.43" font-size="6.2" text-anchor="middle" fill="#6aa8d8" stroke="#6aa8d8" stroke-width="0.1">26</text>
<text x="222.00" y="534.23" font-size="6.2" text-anchor="middle" fill="#a82a58" stroke="#a82a58" stroke-width="0.1">28</text>
<line x1="59.00" y1="408.30" x2="59.00" y2="537.60" stroke="#3a3a3a" stroke-width="1.5"/>
<line x1="58.30" y1="537.25" x2="248.00" y2="537.25" stroke="#3a3a3a" stroke-width="1.5"/>
<line x1="55.80" y1="422.10" x2="59.00" y2="422.10" stroke="#3a3a3a" stroke-width="0.9"/>
<text transform="translate(53.10,424.88) scale(0.92,1)" font-size="6.6" text-anchor="end" fill="#333333" stroke="#333" stroke-width="0.1">40</text>
<line x1="55.80" y1="437.20" x2="59.00" y2="437.20" stroke="#3a3a3a" stroke-width="0.9"/>
<text transform="translate(53.10,439.98) scale(0.92,1)" font-size="6.6" text-anchor="end" fill="#333333" stroke="#333" stroke-width="0.1">20</text>
<line x1="55.80" y1="452.30" x2="59.00" y2="452.30" stroke="#3a3a3a" stroke-width="0.9"/>
<text transform="translate(53.10,455.08) scale(0.92,1)" font-size="6.6" text-anchor="end" fill="#333333" stroke="#333" stroke-width="0.1">0</text>
<line x1="55.80" y1="467.40" x2="59.00" y2="467.40" stroke="#3a3a3a" stroke-width="0.9"/>
<text transform="translate(53.10,470.18) scale(0.92,1)" font-size="6.6" text-anchor="end" fill="#333333" stroke="#333" stroke-width="0.1">−20</text>
<line x1="55.80" y1="482.50" x2="59.00" y2="482.50" stroke="#3a3a3a" stroke-width="0.9"/>
<text transform="translate(53.10,485.28) scale(0.92,1)" font-size="6.6" text-anchor="end" fill="#333333" stroke="#333" stroke-width="0.1">−40</text>
<line x1="55.80" y1="497.60" x2="59.00" y2="497.60" stroke="#3a3a3a" stroke-width="0.9"/>
<text transform="translate(53.10,500.38) scale(0.92,1)" font-size="6.6" text-anchor="end" fill="#333333" stroke="#333" stroke-width="0.1">−60</text>
<line x1="55.80" y1="512.70" x2="59.00" y2="512.70" stroke="#3a3a3a" stroke-width="0.9"/>
<text transform="translate(53.10,515.48) scale(0.92,1)" font-size="6.6" text-anchor="end" fill="#333333" stroke="#333" stroke-width="0.1">−80</text>
<line x1="70.00" y1="536.90" x2="70.00" y2="539.90" stroke="#3a3a3a" stroke-width="0.9"/>
<text transform="translate(70.00,548.88) scale(1.0,1)" font-size="6.6" text-anchor="middle" fill="#333333" stroke="#333" stroke-width="0.1">BL</text>
<line x1="89.00" y1="536.90" x2="89.00" y2="539.90" stroke="#3a3a3a" stroke-width="0.9"/>
<text transform="translate(89.00,548.88) scale(1.0,1)" font-size="6.6" text-anchor="middle" fill="#333333" stroke="#333" stroke-width="0.1">12</text>
<line x1="108.00" y1="536.90" x2="108.00" y2="539.90" stroke="#3a3a3a" stroke-width="0.9"/>
<text transform="translate(108.00,548.88) scale(1.0,1)" font-size="6.6" text-anchor="middle" fill="#333333" stroke="#333" stroke-width="0.1">24</text>
<line x1="127.00" y1="536.90" x2="127.00" y2="539.90" stroke="#3a3a3a" stroke-width="0.9"/>
<text transform="translate(127.00,548.88) scale(1.0,1)" font-size="6.6" text-anchor="middle" fill="#333333" stroke="#333" stroke-width="0.1">36</text>
<line x1="146.00" y1="536.90" x2="146.00" y2="539.90" stroke="#3a3a3a" stroke-width="0.9"/>
<text transform="translate(146.00,548.88) scale(1.0,1)" font-size="6.6" text-anchor="middle" fill="#333333" stroke="#333" stroke-width="0.1">48</text>
<line x1="165.00" y1="536.90" x2="165.00" y2="539.90" stroke="#3a3a3a" stroke-width="0.9"/>
<text transform="translate(165.00,548.88) scale(1.0,1)" font-size="6.6" text-anchor="middle" fill="#333333" stroke="#333" stroke-width="0.1">60</text>
<line x1="184.00" y1="536.90" x2="184.00" y2="539.90" stroke="#3a3a3a" stroke-width="0.9"/>
<text transform="translate(184.00,548.88) scale(1.0,1)" font-size="6.6" text-anchor="middle" fill="#333333" stroke="#333" stroke-width="0.1">72</text>
<line x1="203.00" y1="536.90" x2="203.00" y2="539.90" stroke="#3a3a3a" stroke-width="0.9"/>
<text transform="translate(203.00,548.88) scale(1.0,1)" font-size="6.6" text-anchor="middle" fill="#333333" stroke="#333" stroke-width="0.1">84</text>
<line x1="222.00" y1="536.90" x2="222.00" y2="539.90" stroke="#3a3a3a" stroke-width="0.9"/>
<text transform="translate(222.00,548.88) scale(1.0,1)" font-size="6.6" text-anchor="middle" fill="#333333" stroke="#333" stroke-width="0.1">96</text>
<text x="153.25" y="559.80" font-size="8.2" text-anchor="middle" fill="#222" textLength="13.30" lengthAdjust="spacingAndGlyphs" stroke="#222" stroke-width="0.2">Week</text>
<text x="6.50" y="402.70" font-size="11" text-anchor="start" fill="#111" font-weight="bold" stroke="#111" stroke-width="0.25">E</text>
<text transform="translate(27.50,472.10) rotate(-90)" x="0" y="0" font-size="8.8" text-anchor="middle" fill="#222" stroke="#222" stroke-width="0.12" textLength="71.40" lengthAdjust="spacingAndGlyphs">Mean (95% CI) change from</text>
<text transform="translate(37.50,472.00) rotate(-90)" x="0" y="0" font-size="8.8" text-anchor="middle" fill="#222" stroke="#222" stroke-width="0.12" textLength="66.70" lengthAdjust="spacingAndGlyphs">BL in erythropoietin (IU/L)</text>
<rect x="324.30" y="408.70" width="49.00" height="128.20" fill="#fdf4e2"/>
<rect x="373.30" y="408.70" width="133.00" height="128.20" fill="#e1d9e7"/>
<line x1="324.30" y1="452.40" x2="506.30" y2="452.40" stroke="#2a2a2a" stroke-width="1.1" stroke-dasharray="1.3 1.3"/>
<line x1="373.30" y1="408.70" x2="373.30" y2="536.90" stroke="#2a2a2a" stroke-width="1.1" stroke-dasharray="1.3 1.3"/>
<line x1="328.30" y1="413.30" x2="338.30" y2="413.30" stroke="#222" stroke-width="1"/>
<path d="M326.80,413.30 L330.40,411.60 L330.40,415.00 Z" fill="#222"/>
<text x="326.80" y="423.10" font-size="6.3" text-anchor="start" fill="#333" textLength="39.40" lengthAdjust="spacingAndGlyphs" stroke="#333" stroke-width="0.1">M/M arm starts</text>
<text x="326.80" y="430.00" font-size="6.3" text-anchor="start" fill="#333" textLength="22.80" lengthAdjust="spacingAndGlyphs" stroke="#333" stroke-width="0.1">mitapivat</text>
<line x1="380.00" y1="413.30" x2="390.00" y2="413.30" stroke="#222" stroke-width="1"/>
<path d="M378.50,413.30 L382.10,411.60 L382.10,415.00 Z" fill="#222"/>
<text x="378.50" y="423.10" font-size="6.3" text-anchor="start" fill="#333" textLength="38.70" lengthAdjust="spacingAndGlyphs" stroke="#333" stroke-width="0.1">P/M arm starts</text>
<text x="378.50" y="430.00" font-size="6.3" text-anchor="start" fill="#333" textLength="22.80" lengthAdjust="spacingAndGlyphs" stroke="#333" stroke-width="0.1">mitapivat</text>
<line x1="355.90" y1="467.10" x2="355.90" y2="492.10" stroke="#4eaacb" stroke-width="0.9"/>
<line x1="354.40" y1="467.10" x2="357.40" y2="467.10" stroke="#4eaacb" stroke-width="0.9"/>
<line x1="354.40" y1="492.10" x2="357.40" y2="492.10" stroke="#4eaacb" stroke-width="0.9"/>
<line x1="374.90" y1="471.90" x2="374.90" y2="495.40" stroke="#4eaacb" stroke-width="0.9"/>
<line x1="373.40" y1="471.90" x2="376.40" y2="471.90" stroke="#4eaacb" stroke-width="0.9"/>
<line x1="373.40" y1="495.40" x2="376.40" y2="495.40" stroke="#4eaacb" stroke-width="0.9"/>
<line x1="393.90" y1="470.40" x2="393.90" y2="498.50" stroke="#4eaacb" stroke-width="0.9"/>
<line x1="392.40" y1="470.40" x2="395.40" y2="470.40" stroke="#4eaacb" stroke-width="0.9"/>
<line x1="392.40" y1="498.50" x2="395.40" y2="498.50" stroke="#4eaacb" stroke-width="0.9"/>
<line x1="412.90" y1="469.60" x2="412.90" y2="498.50" stroke="#4eaacb" stroke-width="0.9"/>
<line x1="411.40" y1="469.60" x2="414.40" y2="469.60" stroke="#4eaacb" stroke-width="0.9"/>
<line x1="411.40" y1="498.50" x2="414.40" y2="498.50" stroke="#4eaacb" stroke-width="0.9"/>
<line x1="431.90" y1="471.00" x2="431.90" y2="500.80" stroke="#4eaacb" stroke-width="0.9"/>
<line x1="430.40" y1="471.00" x2="433.40" y2="471.00" stroke="#4eaacb" stroke-width="0.9"/>
<line x1="430.40" y1="500.80" x2="433.40" y2="500.80" stroke="#4eaacb" stroke-width="0.9"/>
<line x1="450.90" y1="474.40" x2="450.90" y2="503.10" stroke="#4eaacb" stroke-width="0.9"/>
<line x1="449.40" y1="474.40" x2="452.40" y2="474.40" stroke="#4eaacb" stroke-width="0.9"/>
<line x1="449.40" y1="503.10" x2="452.40" y2="503.10" stroke="#4eaacb" stroke-width="0.9"/>
<line x1="469.90" y1="467.70" x2="469.90" y2="495.00" stroke="#4eaacb" stroke-width="0.9"/>
<line x1="468.40" y1="467.70" x2="471.40" y2="467.70" stroke="#4eaacb" stroke-width="0.9"/>
<line x1="468.40" y1="495.00" x2="471.40" y2="495.00" stroke="#4eaacb" stroke-width="0.9"/>
<line x1="488.90" y1="466.20" x2="488.90" y2="495.40" stroke="#4eaacb" stroke-width="0.9"/>
<line x1="487.40" y1="466.20" x2="490.40" y2="466.20" stroke="#4eaacb" stroke-width="0.9"/>
<line x1="487.40" y1="495.40" x2="490.40" y2="495.40" stroke="#4eaacb" stroke-width="0.9"/>
<polyline points="336.90,452.40 355.90,479.60 374.90,484.80 393.90,484.40 412.90,484.40 431.90,486.30 450.90,488.70 469.90,482.50 488.90,480.60" fill="none" stroke="#3a9ec2" stroke-width="1.3" stroke-linejoin="round"/>
<circle cx="336.90" cy="452.40" r="1.75" fill="#3aa0c4"/>
<circle cx="355.90" cy="479.60" r="1.75" fill="#3aa0c4"/>
<circle cx="374.90" cy="484.80" r="1.75" fill="#3aa0c4"/>
<circle cx="393.90" cy="484.40" r="1.75" fill="#3aa0c4"/>
<circle cx="412.90" cy="484.40" r="1.75" fill="#3aa0c4"/>
<circle cx="431.90" cy="486.30" r="1.75" fill="#3aa0c4"/>
<circle cx="450.90" cy="488.70" r="1.75" fill="#3aa0c4"/>
<circle cx="469.90" cy="482.50" r="1.75" fill="#3aa0c4"/>
<circle cx="488.90" cy="480.60" r="1.75" fill="#3aa0c4"/>
<line x1="353.00" y1="445.40" x2="353.00" y2="469.60" stroke="#a02a58" stroke-width="0.9"/>
<line x1="351.50" y1="445.40" x2="354.50" y2="445.40" stroke="#a02a58" stroke-width="0.9"/>
<line x1="351.50" y1="469.60" x2="354.50" y2="469.60" stroke="#a02a58" stroke-width="0.9"/>
<line x1="372.00" y1="443.50" x2="372.00" y2="463.30" stroke="#a02a58" stroke-width="0.9"/>
<line x1="370.50" y1="443.50" x2="373.50" y2="443.50" stroke="#a02a58" stroke-width="0.9"/>
<line x1="370.50" y1="463.30" x2="373.50" y2="463.30" stroke="#a02a58" stroke-width="0.9"/>
<line x1="391.00" y1="472.50" x2="391.00" y2="507.50" stroke="#a02a58" stroke-width="0.9"/>
<line x1="389.50" y1="472.50" x2="392.50" y2="472.50" stroke="#a02a58" stroke-width="0.9"/>
<line x1="389.50" y1="507.50" x2="392.50" y2="507.50" stroke="#a02a58" stroke-width="0.9"/>
<line x1="410.00" y1="470.40" x2="410.00" y2="511.30" stroke="#a02a58" stroke-width="0.9"/>
<line x1="408.50" y1="470.40" x2="411.50" y2="470.40" stroke="#a02a58" stroke-width="0.9"/>
<line x1="408.50" y1="511.30" x2="411.50" y2="511.30" stroke="#a02a58" stroke-width="0.9"/>
<line x1="429.00" y1="458.50" x2="429.00" y2="504.60" stroke="#a02a58" stroke-width="0.9"/>
<line x1="427.50" y1="458.50" x2="430.50" y2="458.50" stroke="#a02a58" stroke-width="0.9"/>
<line x1="427.50" y1="504.60" x2="430.50" y2="504.60" stroke="#a02a58" stroke-width="0.9"/>
<line x1="448.00" y1="463.80" x2="448.00" y2="497.30" stroke="#a02a58" stroke-width="0.9"/>
<line x1="446.50" y1="463.80" x2="449.50" y2="463.80" stroke="#a02a58" stroke-width="0.9"/>
<line x1="446.50" y1="497.30" x2="449.50" y2="497.30" stroke="#a02a58" stroke-width="0.9"/>
<line x1="467.00" y1="463.80" x2="467.00" y2="500.40" stroke="#a02a58" stroke-width="0.9"/>
<line x1="465.50" y1="463.80" x2="468.50" y2="463.80" stroke="#a02a58" stroke-width="0.9"/>
<line x1="465.50" y1="500.40" x2="468.50" y2="500.40" stroke="#a02a58" stroke-width="0.9"/>
<line x1="486.00" y1="462.70" x2="486.00" y2="498.80" stroke="#a02a58" stroke-width="0.9"/>
<line x1="484.50" y1="462.70" x2="487.50" y2="462.70" stroke="#a02a58" stroke-width="0.9"/>
<line x1="484.50" y1="498.80" x2="487.50" y2="498.80" stroke="#a02a58" stroke-width="0.9"/>
<polyline points="334.00,452.40 353.00,457.10 372.00,452.70 391.00,490.20 410.00,491.20 429.00,481.50 448.00,481.20 467.00,481.20 486.00,480.20" fill="none" stroke="#9a1a46" stroke-width="1.3" stroke-linejoin="round"/>
<circle cx="334.00" cy="452.40" r="1.75" fill="#b3123e"/>
<circle cx="353.00" cy="457.10" r="1.75" fill="#b3123e"/>
<circle cx="372.00" cy="452.70" r="1.75" fill="#b3123e"/>
<circle cx="391.00" cy="490.20" r="1.75" fill="#b3123e"/>
<circle cx="410.00" cy="491.20" r="1.75" fill="#b3123e"/>
<circle cx="429.00" cy="481.50" r="1.75" fill="#b3123e"/>
<circle cx="448.00" cy="481.20" r="1.75" fill="#b3123e"/>
<circle cx="467.00" cy="481.20" r="1.75" fill="#b3123e"/>
<circle cx="486.00" cy="480.20" r="1.75" fill="#b3123e"/>
<text x="318.10" y="526.43" font-size="5.6" text-anchor="end" fill="#5aa6cc">n =</text>
<text x="318.10" y="534.23" font-size="5.6" text-anchor="end" fill="#b43c62">n =</text>
<text x="335.30" y="526.43" font-size="6.2" text-anchor="middle" fill="#62b4b8" stroke="#62b4b8" stroke-width="0.1">40</text>
<text x="335.30" y="534.23" font-size="6.2" text-anchor="middle" fill="#c03c4c" stroke="#c03c4c" stroke-width="0.1">40</text>
<text x="354.30" y="526.43" font-size="6.2" text-anchor="middle" fill="#62b4b8" stroke="#62b4b8" stroke-width="0.1">34</text>
<text x="354.30" y="534.23" font-size="6.2" text-anchor="middle" fill="#c03c4c" stroke="#c03c4c" stroke-width="0.1">36</text>
<text x="373.30" y="526.43" font-size="6.2" text-anchor="middle" fill="#6aa8d8" stroke="#6aa8d8" stroke-width="0.1">35</text>
<text x="373.30" y="534.23" font-size="6.2" text-anchor="middle" fill="#a82a58" stroke="#a82a58" stroke-width="0.1">35</text>
<text x="392.30" y="526.43" font-size="6.2" text-anchor="middle" fill="#6aa8d8" stroke="#6aa8d8" stroke-width="0.1">32</text>
<text x="392.30" y="534.23" font-size="6.2" text-anchor="middle" fill="#a82a58" stroke="#a82a58" stroke-width="0.1">31</text>
<text x="411.30" y="526.43" font-size="6.2" text-anchor="middle" fill="#6aa8d8" stroke="#6aa8d8" stroke-width="0.1">28</text>
<text x="411.30" y="534.23" font-size="6.2" text-anchor="middle" fill="#a82a58" stroke="#a82a58" stroke-width="0.1">25</text>
<text x="430.30" y="526.43" font-size="6.2" text-anchor="middle" fill="#6aa8d8" stroke="#6aa8d8" stroke-width="0.1">28</text>
<text x="430.30" y="534.23" font-size="6.2" text-anchor="middle" fill="#a82a58" stroke="#a82a58" stroke-width="0.1">27</text>
<text x="449.30" y="526.43" font-size="6.2" text-anchor="middle" fill="#6aa8d8" stroke="#6aa8d8" stroke-width="0.1">29</text>
<text x="449.30" y="534.23" font-size="6.2" text-anchor="middle" fill="#a82a58" stroke="#a82a58" stroke-width="0.1">26</text>
<text x="468.30" y="526.43" font-size="6.2" text-anchor="middle" fill="#6aa8d8" stroke="#6aa8d8" stroke-width="0.1">24</text>
<text x="468.30" y="534.23" font-size="6.2" text-anchor="middle" fill="#a82a58" stroke="#a82a58" stroke-width="0.1">27</text>
<text x="487.30" y="526.43" font-size="6.2" text-anchor="middle" fill="#6aa8d8" stroke="#6aa8d8" stroke-width="0.1">25</text>
<text x="487.30" y="534.23" font-size="6.2" text-anchor="middle" fill="#a82a58" stroke="#a82a58" stroke-width="0.1">24</text>
<line x1="324.30" y1="408.30" x2="324.30" y2="537.60" stroke="#3a3a3a" stroke-width="1.5"/>
<line x1="323.60" y1="537.25" x2="513.30" y2="537.25" stroke="#3a3a3a" stroke-width="1.5"/>
<line x1="321.10" y1="422.00" x2="324.30" y2="422.00" stroke="#3a3a3a" stroke-width="0.9"/>
<text transform="translate(318.40,424.78) scale(0.92,1)" font-size="6.6" text-anchor="end" fill="#333333" stroke="#333" stroke-width="0.1">10</text>
<line x1="321.10" y1="452.40" x2="324.30" y2="452.40" stroke="#3a3a3a" stroke-width="0.9"/>
<text transform="translate(318.40,455.18) scale(0.92,1)" font-size="6.6" text-anchor="end" fill="#333333" stroke="#333" stroke-width="0.1">0</text>
<line x1="321.10" y1="482.80" x2="324.30" y2="482.80" stroke="#3a3a3a" stroke-width="0.9"/>
<text transform="translate(318.40,485.58) scale(0.92,1)" font-size="6.6" text-anchor="end" fill="#333333" stroke="#333" stroke-width="0.1">−10</text>
<line x1="321.10" y1="513.20" x2="324.30" y2="513.20" stroke="#3a3a3a" stroke-width="0.9"/>
<text transform="translate(318.40,515.98) scale(0.92,1)" font-size="6.6" text-anchor="end" fill="#333333" stroke="#333" stroke-width="0.1">−20</text>
<line x1="335.30" y1="536.90" x2="335.30" y2="539.90" stroke="#3a3a3a" stroke-width="0.9"/>
<text transform="translate(335.30,548.88) scale(1.0,1)" font-size="6.6" text-anchor="middle" fill="#333333" stroke="#333" stroke-width="0.1">BL</text>
<line x1="354.30" y1="536.90" x2="354.30" y2="539.90" stroke="#3a3a3a" stroke-width="0.9"/>
<text transform="translate(354.30,548.88) scale(1.0,1)" font-size="6.6" text-anchor="middle" fill="#333333" stroke="#333" stroke-width="0.1">12</text>
<line x1="373.30" y1="536.90" x2="373.30" y2="539.90" stroke="#3a3a3a" stroke-width="0.9"/>
<text transform="translate(373.30,548.88) scale(1.0,1)" font-size="6.6" text-anchor="middle" fill="#333333" stroke="#333" stroke-width="0.1">24</text>
<line x1="392.30" y1="536.90" x2="392.30" y2="539.90" stroke="#3a3a3a" stroke-width="0.9"/>
<text transform="translate(392.30,548.88) scale(1.0,1)" font-size="6.6" text-anchor="middle" fill="#333333" stroke="#333" stroke-width="0.1">36</text>
<line x1="411.30" y1="536.90" x2="411.30" y2="539.90" stroke="#3a3a3a" stroke-width="0.9"/>
<text transform="translate(411.30,548.88) scale(1.0,1)" font-size="6.6" text-anchor="middle" fill="#333333" stroke="#333" stroke-width="0.1">48</text>
<line x1="430.30" y1="536.90" x2="430.30" y2="539.90" stroke="#3a3a3a" stroke-width="0.9"/>
<text transform="translate(430.30,548.88) scale(1.0,1)" font-size="6.6" text-anchor="middle" fill="#333333" stroke="#333" stroke-width="0.1">60</text>
<line x1="449.30" y1="536.90" x2="449.30" y2="539.90" stroke="#3a3a3a" stroke-width="0.9"/>
<text transform="translate(449.30,548.88) scale(1.0,1)" font-size="6.6" text-anchor="middle" fill="#333333" stroke="#333" stroke-width="0.1">72</text>
<line x1="468.30" y1="536.90" x2="468.30" y2="539.90" stroke="#3a3a3a" stroke-width="0.9"/>
<text transform="translate(468.30,548.88) scale(1.0,1)" font-size="6.6" text-anchor="middle" fill="#333333" stroke="#333" stroke-width="0.1">84</text>
<line x1="487.30" y1="536.90" x2="487.30" y2="539.90" stroke="#3a3a3a" stroke-width="0.9"/>
<text transform="translate(487.30,548.88) scale(1.0,1)" font-size="6.6" text-anchor="middle" fill="#333333" stroke="#333" stroke-width="0.1">96</text>
<text x="418.55" y="559.80" font-size="8.2" text-anchor="middle" fill="#222" textLength="13.30" lengthAdjust="spacingAndGlyphs" stroke="#222" stroke-width="0.2">Week</text>
<text x="263.30" y="402.70" font-size="11" text-anchor="start" fill="#111" font-weight="bold" stroke="#111" stroke-width="0.25">F</text>
<text transform="translate(293.00,472.30) rotate(-90)" x="0" y="0" font-size="8.8" text-anchor="middle" fill="#222" stroke="#222" stroke-width="0.12" textLength="80.30" lengthAdjust="spacingAndGlyphs">Mean (95% CI) change from BL</text>
<text transform="translate(302.50,471.80) rotate(-90)" x="0" y="0" font-size="8.8" text-anchor="middle" fill="#222" stroke="#222" stroke-width="0.12" textLength="47.00" lengthAdjust="spacingAndGlyphs">in reticulocytes (%)</text>
<rect x="177.3" y="6.6" width="6" height="6" fill="#fdf4e2" stroke="#5a5a5a" stroke-width="0.9"/>
<text x="186.00" y="11.90" font-size="6.8" text-anchor="start" fill="#333" textLength="26.80" lengthAdjust="spacingAndGlyphs">ACTIVATE</text>
<rect x="227.4" y="6.6" width="6" height="6" fill="#d8d5dc" stroke="#5a5a5a" stroke-width="0.9"/>
<text x="235.60" y="11.90" font-size="6.8" text-anchor="start" fill="#333" textLength="25.40" lengthAdjust="spacingAndGlyphs">LTE study</text>
<line x1="275.8" y1="9.8" x2="287.3" y2="9.8" stroke="#3a9ec2" stroke-width="1.1"/>
<circle cx="281.4" cy="9.8" r="2.0" fill="#3590b0"/>
<text x="289.80" y="11.90" font-size="6.8" text-anchor="start" fill="#333" textLength="13.10" lengthAdjust="spacingAndGlyphs">M/M</text>
<line x1="316.7" y1="9.8" x2="328.5" y2="9.8" stroke="#9a1a46" stroke-width="1.1"/>
<circle cx="322.7" cy="9.8" r="2.1" fill="#b3123e"/>
<text x="331.30" y="11.90" font-size="6.8" text-anchor="start" fill="#333" textLength="11.60" lengthAdjust="spacingAndGlyphs">P/M</text>
<rect x="0.5" y="0.5" width="519" height="567" fill="none" stroke="#4a4a4a" stroke-width="1"/>
</svg>
</body></html>
